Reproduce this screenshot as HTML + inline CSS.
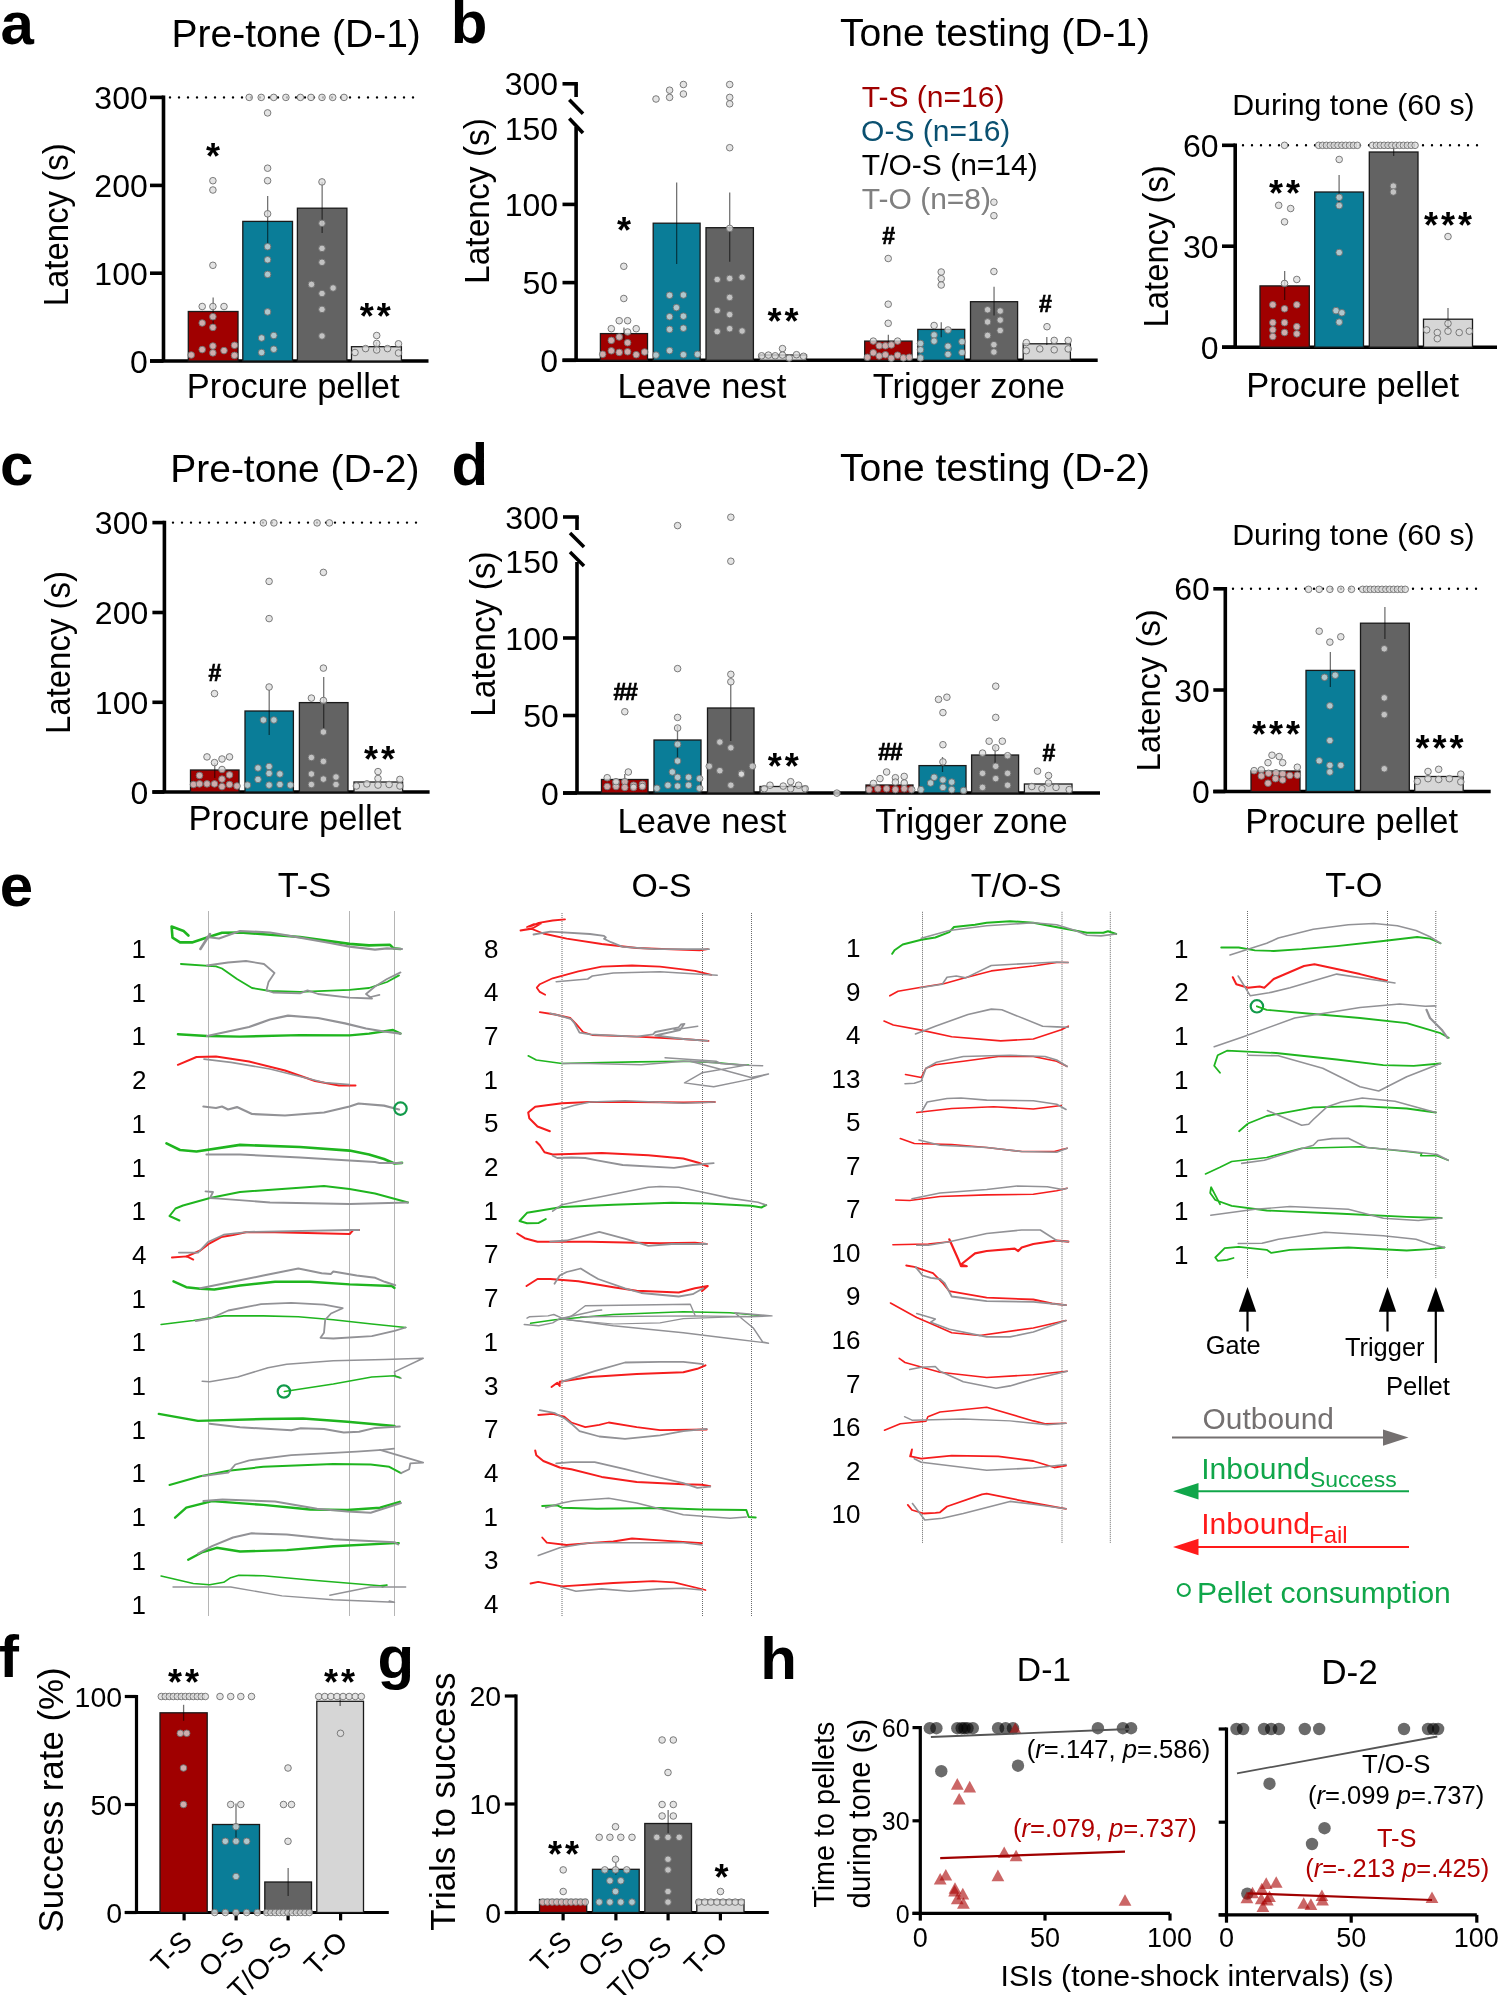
<!DOCTYPE html>
<html><head><meta charset="utf-8"><style>
html,body{margin:0;padding:0;background:#fff;}
svg{display:block;will-change:transform;}
text{font-family:"Liberation Sans", sans-serif;}
.d{fill:#dcdcdc;fill-opacity:0.78;stroke:#6e6e6e;stroke-opacity:0.9;stroke-width:1;}
.tr{fill:none;stroke-linejoin:round;stroke-linecap:round;}
</style></head><body>
<svg width="1500" height="1995" viewBox="0 0 1500 1995">
<rect x="0" y="0" width="1500" height="1995" fill="#fff"/>
<text x="0.44" y="44.00" font-size="60" text-anchor="start" fill="#000" font-weight="bold" >a</text>
<text x="171.60" y="46.50" font-size="39" text-anchor="start" fill="#000" >Pre-tone (D-1)</text>
<text transform="translate(68.00,224.45) rotate(-90) scale(1.0301,1.0695)" x="-79.46" y="0" font-size="32" fill="#000">Latency (s)</text>
<line x1="163.50" y1="95.60" x2="163.50" y2="361.00" stroke="#000" stroke-width="3.6" />
<line x1="150.00" y1="97.40" x2="163.50" y2="97.40" stroke="#000" stroke-width="3.6" />
<text x="147.75" y="108.91" font-size="32" text-anchor="end" fill="#000" >300</text>
<line x1="150.00" y1="185.40" x2="163.50" y2="185.40" stroke="#000" stroke-width="3.6" />
<text x="147.75" y="196.91" font-size="32" text-anchor="end" fill="#000" >200</text>
<line x1="150.00" y1="273.20" x2="163.50" y2="273.20" stroke="#000" stroke-width="3.6" />
<text x="147.75" y="284.71" font-size="32" text-anchor="end" fill="#000" >100</text>
<line x1="150.00" y1="361.00" x2="163.50" y2="361.00" stroke="#000" stroke-width="3.6" />
<text x="147.75" y="372.51" font-size="32" text-anchor="end" fill="#000" >0</text>
<line x1="150.00" y1="361.00" x2="428.50" y2="361.00" stroke="#000" stroke-width="3.6" />
<line x1="170.00" y1="97.40" x2="421.00" y2="97.40" stroke="#000" stroke-width="2.4" stroke-linecap="round" stroke-dasharray="0 9.0"/>
<rect x="188.30" y="311.50" width="49.70" height="49.50" fill="#a00000" stroke="#1a1a1a" stroke-width="1.3"/>
<rect x="242.80" y="221.40" width="49.70" height="139.60" fill="#0a7d98" stroke="#1a1a1a" stroke-width="1.3"/>
<rect x="297.40" y="208.20" width="49.50" height="152.80" fill="#636363" stroke="#1a1a1a" stroke-width="1.3"/>
<rect x="351.50" y="346.70" width="49.90" height="14.30" fill="#d6d6d6" stroke="#1a1a1a" stroke-width="1.3"/>
<line x1="213.15" y1="297.40" x2="213.15" y2="325.00" stroke="#000" stroke-opacity="0.55" stroke-width="1.3"/>
<line x1="267.65" y1="196.00" x2="267.65" y2="243.00" stroke="#000" stroke-opacity="0.55" stroke-width="1.3"/>
<line x1="322.15" y1="182.00" x2="322.15" y2="233.00" stroke="#000" stroke-opacity="0.55" stroke-width="1.3"/>
<line x1="376.45" y1="342.00" x2="376.45" y2="351.00" stroke="#000" stroke-opacity="0.55" stroke-width="1.3"/>
<circle cx="249.20" cy="97.40" r="3.3" class="d"/>
<circle cx="261.20" cy="97.40" r="3.3" class="d"/>
<circle cx="273.70" cy="97.40" r="3.3" class="d"/>
<circle cx="285.90" cy="97.40" r="3.3" class="d"/>
<circle cx="300.40" cy="97.40" r="3.3" class="d"/>
<circle cx="311.00" cy="97.40" r="3.3" class="d"/>
<circle cx="322.00" cy="97.40" r="3.3" class="d"/>
<circle cx="332.70" cy="97.40" r="3.3" class="d"/>
<circle cx="344.00" cy="97.40" r="3.3" class="d"/>
<circle cx="267.60" cy="112.90" r="3.3" class="d"/>
<circle cx="267.60" cy="168.20" r="3.3" class="d"/>
<circle cx="267.60" cy="180.70" r="3.3" class="d"/>
<circle cx="267.60" cy="213.80" r="3.3" class="d"/>
<circle cx="267.60" cy="246.70" r="3.3" class="d"/>
<circle cx="267.60" cy="259.80" r="3.3" class="d"/>
<circle cx="267.60" cy="274.40" r="3.3" class="d"/>
<circle cx="267.60" cy="311.90" r="3.3" class="d"/>
<circle cx="261.60" cy="338.00" r="3.3" class="d"/>
<circle cx="273.80" cy="335.50" r="3.3" class="d"/>
<circle cx="261.60" cy="352.50" r="3.3" class="d"/>
<circle cx="273.80" cy="349.20" r="3.3" class="d"/>
<circle cx="322.00" cy="181.90" r="3.3" class="d"/>
<circle cx="322.00" cy="223.30" r="3.3" class="d"/>
<circle cx="322.00" cy="248.40" r="3.3" class="d"/>
<circle cx="322.00" cy="262.30" r="3.3" class="d"/>
<circle cx="311.50" cy="284.40" r="3.3" class="d"/>
<circle cx="333.10" cy="288.00" r="3.3" class="d"/>
<circle cx="322.00" cy="293.50" r="3.3" class="d"/>
<circle cx="322.00" cy="309.40" r="3.3" class="d"/>
<circle cx="322.00" cy="336.00" r="3.3" class="d"/>
<circle cx="212.90" cy="180.70" r="3.3" class="d"/>
<circle cx="212.90" cy="190.00" r="3.3" class="d"/>
<circle cx="212.90" cy="265.30" r="3.3" class="d"/>
<circle cx="202.20" cy="306.50" r="3.3" class="d"/>
<circle cx="212.90" cy="306.50" r="3.3" class="d"/>
<circle cx="224.00" cy="306.50" r="3.3" class="d"/>
<circle cx="212.90" cy="316.70" r="3.3" class="d"/>
<circle cx="202.20" cy="323.00" r="3.3" class="d"/>
<circle cx="212.90" cy="327.40" r="3.3" class="d"/>
<circle cx="212.90" cy="346.00" r="3.3" class="d"/>
<circle cx="202.20" cy="349.60" r="3.3" class="d"/>
<circle cx="212.90" cy="352.90" r="3.3" class="d"/>
<circle cx="224.00" cy="350.60" r="3.3" class="d"/>
<circle cx="191.20" cy="355.00" r="3.3" class="d"/>
<circle cx="234.50" cy="345.30" r="3.3" class="d"/>
<circle cx="234.50" cy="355.40" r="3.3" class="d"/>
<circle cx="376.70" cy="335.50" r="3.3" class="d"/>
<circle cx="376.70" cy="343.40" r="3.3" class="d"/>
<circle cx="365.60" cy="348.60" r="3.3" class="d"/>
<circle cx="376.70" cy="350.00" r="3.3" class="d"/>
<circle cx="387.50" cy="348.60" r="3.3" class="d"/>
<circle cx="355.00" cy="352.50" r="3.3" class="d"/>
<circle cx="398.50" cy="343.80" r="3.3" class="d"/>
<circle cx="398.50" cy="353.00" r="3.3" class="d"/>
<text x="205.89" y="168.57" font-size="36" font-weight="bold" letter-spacing="3.0" fill="#000">*</text>
<text x="359.69" y="328.77" font-size="36" font-weight="bold" letter-spacing="3.0" fill="#000">**</text>
<text x="186.77" y="398.00" font-size="34.5" text-anchor="start" fill="#000" >Procure pellet</text>
<text x="450.74" y="43.30" font-size="60" text-anchor="start" fill="#000" font-weight="bold" >b</text>
<text x="840.02" y="45.80" font-size="39" text-anchor="start" fill="#000" >Tone testing (D-1)</text>
<text transform="translate(488.72,200.65) rotate(-90) scale(1.0496,1.0963)" x="-79.46" y="0" font-size="32" fill="#000">Latency (s)</text>
<line x1="576.10" y1="126.90" x2="576.10" y2="360.30" stroke="#000" stroke-width="3.6" />
<line x1="562.50" y1="204.40" x2="576.10" y2="204.40" stroke="#000" stroke-width="3.6" />
<text x="558.15" y="215.91" font-size="32" text-anchor="end" fill="#000" >100</text>
<line x1="562.50" y1="282.60" x2="576.10" y2="282.60" stroke="#000" stroke-width="3.6" />
<text x="558.15" y="294.11" font-size="32" text-anchor="end" fill="#000" >50</text>
<line x1="562.50" y1="360.30" x2="576.10" y2="360.30" stroke="#000" stroke-width="3.6" />
<text x="558.15" y="371.81" font-size="32" text-anchor="end" fill="#000" >0</text>
<text x="558.15" y="139.51" font-size="32" text-anchor="end" fill="#000" >150</text>
<line x1="562.50" y1="83.80" x2="577.90" y2="83.80" stroke="#000" stroke-width="3.6" />
<line x1="576.10" y1="83.80" x2="576.10" y2="97.00" stroke="#000" stroke-width="3.6" />
<line x1="569.30" y1="99.70" x2="583.00" y2="113.70" stroke="#000" stroke-width="3.6" />
<line x1="569.30" y1="118.50" x2="583.00" y2="133.00" stroke="#000" stroke-width="3.6" />
<text x="558.15" y="95.31" font-size="32" text-anchor="end" fill="#000" >300</text>
<line x1="562.50" y1="360.30" x2="1097.70" y2="360.30" stroke="#000" stroke-width="3.6" />
<rect x="600.40" y="333.60" width="47.10" height="26.70" fill="#a00000" stroke="#1a1a1a" stroke-width="1.3"/>
<rect x="653.20" y="223.20" width="46.90" height="137.10" fill="#0a7d98" stroke="#1a1a1a" stroke-width="1.3"/>
<rect x="706.00" y="227.70" width="47.40" height="132.60" fill="#636363" stroke="#1a1a1a" stroke-width="1.3"/>
<rect x="759.50" y="355.00" width="47.00" height="5.30" fill="#d6d6d6" stroke="#1a1a1a" stroke-width="1.3"/>
<rect x="864.70" y="341.10" width="47.30" height="19.20" fill="#a00000" stroke="#1a1a1a" stroke-width="1.3"/>
<rect x="917.80" y="329.40" width="46.90" height="30.90" fill="#0a7d98" stroke="#1a1a1a" stroke-width="1.3"/>
<rect x="970.50" y="301.70" width="47.10" height="58.60" fill="#636363" stroke="#1a1a1a" stroke-width="1.3"/>
<rect x="1023.20" y="343.80" width="47.20" height="16.50" fill="#d6d6d6" stroke="#1a1a1a" stroke-width="1.3"/>
<line x1="623.95" y1="327.50" x2="623.95" y2="340.00" stroke="#000" stroke-opacity="0.55" stroke-width="1.3"/>
<line x1="676.65" y1="182.40" x2="676.65" y2="264.00" stroke="#000" stroke-opacity="0.55" stroke-width="1.3"/>
<line x1="729.70" y1="192.60" x2="729.70" y2="261.80" stroke="#000" stroke-opacity="0.55" stroke-width="1.3"/>
<line x1="888.35" y1="334.80" x2="888.35" y2="345.00" stroke="#000" stroke-opacity="0.55" stroke-width="1.3"/>
<line x1="941.25" y1="322.20" x2="941.25" y2="337.20" stroke="#000" stroke-opacity="0.55" stroke-width="1.3"/>
<line x1="994.05" y1="286.80" x2="994.05" y2="315.60" stroke="#000" stroke-opacity="0.55" stroke-width="1.3"/>
<line x1="1046.80" y1="337.00" x2="1046.80" y2="345.00" stroke="#000" stroke-opacity="0.55" stroke-width="1.3"/>
<circle cx="623.80" cy="266.30" r="3.3" class="d"/>
<circle cx="623.80" cy="298.50" r="3.3" class="d"/>
<circle cx="619.20" cy="320.70" r="3.3" class="d"/>
<circle cx="627.60" cy="320.70" r="3.3" class="d"/>
<circle cx="611.30" cy="328.70" r="3.3" class="d"/>
<circle cx="636.20" cy="328.70" r="3.3" class="d"/>
<circle cx="627.60" cy="332.00" r="3.3" class="d"/>
<circle cx="611.30" cy="340.40" r="3.3" class="d"/>
<circle cx="619.20" cy="337.00" r="3.3" class="d"/>
<circle cx="627.60" cy="342.70" r="3.3" class="d"/>
<circle cx="611.30" cy="350.80" r="3.3" class="d"/>
<circle cx="619.20" cy="352.40" r="3.3" class="d"/>
<circle cx="627.60" cy="351.80" r="3.3" class="d"/>
<circle cx="602.70" cy="354.30" r="3.3" class="d"/>
<circle cx="636.20" cy="354.70" r="3.3" class="d"/>
<circle cx="644.60" cy="352.00" r="3.3" class="d"/>
<circle cx="656.00" cy="99.00" r="3.3" class="d"/>
<circle cx="669.60" cy="90.20" r="3.3" class="d"/>
<circle cx="669.60" cy="97.40" r="3.3" class="d"/>
<circle cx="683.40" cy="84.50" r="3.3" class="d"/>
<circle cx="683.40" cy="94.00" r="3.3" class="d"/>
<circle cx="669.60" cy="295.30" r="3.3" class="d"/>
<circle cx="683.40" cy="295.00" r="3.3" class="d"/>
<circle cx="676.40" cy="307.60" r="3.3" class="d"/>
<circle cx="669.60" cy="316.70" r="3.3" class="d"/>
<circle cx="683.40" cy="316.20" r="3.3" class="d"/>
<circle cx="669.60" cy="329.40" r="3.3" class="d"/>
<circle cx="683.40" cy="328.20" r="3.3" class="d"/>
<circle cx="669.60" cy="350.60" r="3.3" class="d"/>
<circle cx="656.00" cy="355.10" r="3.3" class="d"/>
<circle cx="683.40" cy="354.70" r="3.3" class="d"/>
<circle cx="697.50" cy="354.30" r="3.3" class="d"/>
<circle cx="729.70" cy="84.50" r="3.3" class="d"/>
<circle cx="729.70" cy="97.40" r="3.3" class="d"/>
<circle cx="729.70" cy="103.80" r="3.3" class="d"/>
<circle cx="729.70" cy="147.70" r="3.3" class="d"/>
<circle cx="729.70" cy="228.40" r="3.3" class="d"/>
<circle cx="717.20" cy="279.50" r="3.3" class="d"/>
<circle cx="729.70" cy="278.40" r="3.3" class="d"/>
<circle cx="742.10" cy="277.20" r="3.3" class="d"/>
<circle cx="729.70" cy="297.40" r="3.3" class="d"/>
<circle cx="717.20" cy="310.50" r="3.3" class="d"/>
<circle cx="729.70" cy="314.60" r="3.3" class="d"/>
<circle cx="717.20" cy="331.60" r="3.3" class="d"/>
<circle cx="729.70" cy="328.70" r="3.3" class="d"/>
<circle cx="742.10" cy="331.00" r="3.3" class="d"/>
<circle cx="782.50" cy="348.60" r="3.3" class="d"/>
<circle cx="761.60" cy="355.80" r="3.3" class="d"/>
<circle cx="768.40" cy="355.10" r="3.3" class="d"/>
<circle cx="775.20" cy="355.80" r="3.3" class="d"/>
<circle cx="782.50" cy="355.10" r="3.3" class="d"/>
<circle cx="789.20" cy="358.10" r="3.3" class="d"/>
<circle cx="796.50" cy="354.70" r="3.3" class="d"/>
<circle cx="803.50" cy="356.30" r="3.3" class="d"/>
<circle cx="888.20" cy="258.50" r="3.3" class="d"/>
<circle cx="888.20" cy="304.20" r="3.3" class="d"/>
<circle cx="888.20" cy="323.30" r="3.3" class="d"/>
<circle cx="873.30" cy="341.10" r="3.3" class="d"/>
<circle cx="897.60" cy="341.10" r="3.3" class="d"/>
<circle cx="879.20" cy="345.80" r="3.3" class="d"/>
<circle cx="885.40" cy="345.80" r="3.3" class="d"/>
<circle cx="891.30" cy="344.90" r="3.3" class="d"/>
<circle cx="873.30" cy="352.80" r="3.3" class="d"/>
<circle cx="879.20" cy="356.00" r="3.3" class="d"/>
<circle cx="885.40" cy="354.80" r="3.3" class="d"/>
<circle cx="897.60" cy="355.20" r="3.3" class="d"/>
<circle cx="867.40" cy="357.30" r="3.3" class="d"/>
<circle cx="891.30" cy="358.20" r="3.3" class="d"/>
<circle cx="903.40" cy="357.90" r="3.3" class="d"/>
<circle cx="909.30" cy="357.30" r="3.3" class="d"/>
<circle cx="941.20" cy="272.00" r="3.3" class="d"/>
<circle cx="941.20" cy="278.70" r="3.3" class="d"/>
<circle cx="941.20" cy="285.00" r="3.3" class="d"/>
<circle cx="934.10" cy="325.50" r="3.3" class="d"/>
<circle cx="948.00" cy="330.00" r="3.3" class="d"/>
<circle cx="934.10" cy="335.00" r="3.3" class="d"/>
<circle cx="934.10" cy="341.10" r="3.3" class="d"/>
<circle cx="920.50" cy="343.50" r="3.3" class="d"/>
<circle cx="962.00" cy="341.70" r="3.3" class="d"/>
<circle cx="920.50" cy="349.80" r="3.3" class="d"/>
<circle cx="948.00" cy="346.20" r="3.3" class="d"/>
<circle cx="948.00" cy="354.30" r="3.3" class="d"/>
<circle cx="962.00" cy="352.50" r="3.3" class="d"/>
<circle cx="920.50" cy="357.90" r="3.3" class="d"/>
<circle cx="993.90" cy="202.20" r="3.3" class="d"/>
<circle cx="993.90" cy="215.70" r="3.3" class="d"/>
<circle cx="993.90" cy="271.50" r="3.3" class="d"/>
<circle cx="987.60" cy="309.80" r="3.3" class="d"/>
<circle cx="1000.20" cy="311.00" r="3.3" class="d"/>
<circle cx="987.60" cy="321.90" r="3.3" class="d"/>
<circle cx="1000.20" cy="320.10" r="3.3" class="d"/>
<circle cx="987.60" cy="335.40" r="3.3" class="d"/>
<circle cx="1000.20" cy="330.50" r="3.3" class="d"/>
<circle cx="993.90" cy="344.70" r="3.3" class="d"/>
<circle cx="993.90" cy="352.00" r="3.3" class="d"/>
<circle cx="1047.00" cy="326.70" r="3.3" class="d"/>
<circle cx="1026.30" cy="342.60" r="3.3" class="d"/>
<circle cx="1054.20" cy="340.40" r="3.3" class="d"/>
<circle cx="1068.20" cy="340.40" r="3.3" class="d"/>
<circle cx="1039.80" cy="348.90" r="3.3" class="d"/>
<circle cx="1054.20" cy="349.80" r="3.3" class="d"/>
<circle cx="1026.30" cy="350.70" r="3.3" class="d"/>
<circle cx="1068.20" cy="348.90" r="3.3" class="d"/>
<text x="616.89" y="243.47" font-size="36" font-weight="bold" letter-spacing="3.0" fill="#000">*</text>
<text x="767.59" y="334.07" font-size="36" font-weight="bold" letter-spacing="3.0" fill="#000">**</text>
<text x="882.31" y="244.47" font-size="23" font-weight="bold" letter-spacing="-1.2" fill="#000" stroke="#000" stroke-width="0.7">#</text>
<text x="1039.01" y="311.97" font-size="23" font-weight="bold" letter-spacing="-1.2" fill="#000" stroke="#000" stroke-width="0.7">#</text>
<text x="861.83" y="107.20" font-size="30" text-anchor="start" fill="#a00000" >T-S (n=16)</text>
<text x="861.08" y="140.80" font-size="30" text-anchor="start" fill="#0a5070" >O-S (n=16)</text>
<text x="861.83" y="174.50" font-size="30" text-anchor="start" fill="#000" >T/O-S (n=14)</text>
<text x="861.83" y="208.50" font-size="30" text-anchor="start" fill="#808080" >T-O (n=8)</text>
<text x="617.57" y="398.00" font-size="34.5" text-anchor="start" fill="#000" >Leave nest</text>
<text x="872.63" y="398.00" font-size="34.5" text-anchor="start" fill="#000" >Trigger zone</text>
<text x="1232.21" y="114.70" font-size="30.3" text-anchor="start" fill="#000" >During tone (60 s)</text>
<text transform="translate(1167.58,246.00) rotate(-90) scale(1.0243,1.0728)" x="-79.46" y="0" font-size="32" fill="#000">Latency (s)</text>
<line x1="1235.20" y1="143.50" x2="1235.20" y2="347.20" stroke="#000" stroke-width="3.6" />
<line x1="1222.00" y1="145.30" x2="1235.20" y2="145.30" stroke="#000" stroke-width="3.6" />
<text x="1218.55" y="156.81" font-size="32" text-anchor="end" fill="#000" >60</text>
<line x1="1222.00" y1="246.20" x2="1235.20" y2="246.20" stroke="#000" stroke-width="3.6" />
<text x="1218.55" y="257.71" font-size="32" text-anchor="end" fill="#000" >30</text>
<line x1="1222.00" y1="347.20" x2="1235.20" y2="347.20" stroke="#000" stroke-width="3.6" />
<text x="1218.55" y="358.71" font-size="32" text-anchor="end" fill="#000" >0</text>
<line x1="1222.00" y1="347.20" x2="1497.00" y2="347.20" stroke="#000" stroke-width="3.6" />
<line x1="1243.00" y1="145.30" x2="1484.00" y2="145.30" stroke="#000" stroke-width="2.4" stroke-linecap="round" stroke-dasharray="0 9.0"/>
<rect x="1260.00" y="285.90" width="49.30" height="61.30" fill="#a00000" stroke="#1a1a1a" stroke-width="1.3"/>
<rect x="1314.70" y="192.00" width="48.80" height="155.20" fill="#0a7d98" stroke="#1a1a1a" stroke-width="1.3"/>
<rect x="1369.30" y="152.00" width="48.70" height="195.20" fill="#636363" stroke="#1a1a1a" stroke-width="1.3"/>
<rect x="1423.50" y="319.20" width="49.00" height="28.00" fill="#d6d6d6" stroke="#1a1a1a" stroke-width="1.3"/>
<line x1="1284.65" y1="271.00" x2="1284.65" y2="300.00" stroke="#000" stroke-opacity="0.55" stroke-width="1.3"/>
<line x1="1339.10" y1="175.00" x2="1339.10" y2="209.00" stroke="#000" stroke-opacity="0.55" stroke-width="1.3"/>
<line x1="1393.65" y1="145.50" x2="1393.65" y2="156.00" stroke="#000" stroke-opacity="0.55" stroke-width="1.3"/>
<line x1="1448.00" y1="308.00" x2="1448.00" y2="330.00" stroke="#000" stroke-opacity="0.55" stroke-width="1.3"/>
<circle cx="1284.53" cy="145.33" r="3.3" class="d"/>
<circle cx="1278.67" cy="205.33" r="3.3" class="d"/>
<circle cx="1290.67" cy="208.53" r="3.3" class="d"/>
<circle cx="1284.53" cy="221.87" r="3.3" class="d"/>
<circle cx="1284.53" cy="283.47" r="3.3" class="d"/>
<circle cx="1296.80" cy="279.47" r="3.3" class="d"/>
<circle cx="1272.80" cy="304.80" r="3.3" class="d"/>
<circle cx="1296.80" cy="304.80" r="3.3" class="d"/>
<circle cx="1284.53" cy="308.80" r="3.3" class="d"/>
<circle cx="1272.80" cy="322.67" r="3.3" class="d"/>
<circle cx="1284.53" cy="322.67" r="3.3" class="d"/>
<circle cx="1296.80" cy="326.67" r="3.3" class="d"/>
<circle cx="1272.80" cy="329.87" r="3.3" class="d"/>
<circle cx="1284.53" cy="332.53" r="3.3" class="d"/>
<circle cx="1296.80" cy="333.87" r="3.3" class="d"/>
<circle cx="1272.80" cy="336.53" r="3.3" class="d"/>
<circle cx="1318.67" cy="145.33" r="3.3" class="d"/>
<circle cx="1322.53" cy="145.33" r="3.3" class="d"/>
<circle cx="1326.40" cy="145.33" r="3.3" class="d"/>
<circle cx="1330.27" cy="145.33" r="3.3" class="d"/>
<circle cx="1334.13" cy="145.33" r="3.3" class="d"/>
<circle cx="1338.00" cy="145.33" r="3.3" class="d"/>
<circle cx="1341.87" cy="145.33" r="3.3" class="d"/>
<circle cx="1345.73" cy="145.33" r="3.3" class="d"/>
<circle cx="1349.60" cy="145.33" r="3.3" class="d"/>
<circle cx="1353.47" cy="145.33" r="3.3" class="d"/>
<circle cx="1357.33" cy="145.33" r="3.3" class="d"/>
<circle cx="1339.20" cy="159.47" r="3.3" class="d"/>
<circle cx="1339.20" cy="197.33" r="3.3" class="d"/>
<circle cx="1339.20" cy="205.60" r="3.3" class="d"/>
<circle cx="1339.20" cy="252.53" r="3.3" class="d"/>
<circle cx="1336.00" cy="310.67" r="3.3" class="d"/>
<circle cx="1341.87" cy="312.80" r="3.3" class="d"/>
<circle cx="1339.20" cy="322.13" r="3.3" class="d"/>
<circle cx="1372.53" cy="145.33" r="3.3" class="d"/>
<circle cx="1376.40" cy="145.33" r="3.3" class="d"/>
<circle cx="1380.27" cy="145.33" r="3.3" class="d"/>
<circle cx="1384.13" cy="145.33" r="3.3" class="d"/>
<circle cx="1388.00" cy="145.33" r="3.3" class="d"/>
<circle cx="1391.87" cy="145.33" r="3.3" class="d"/>
<circle cx="1395.73" cy="145.33" r="3.3" class="d"/>
<circle cx="1399.60" cy="145.33" r="3.3" class="d"/>
<circle cx="1403.47" cy="145.33" r="3.3" class="d"/>
<circle cx="1407.33" cy="145.33" r="3.3" class="d"/>
<circle cx="1411.20" cy="145.33" r="3.3" class="d"/>
<circle cx="1415.07" cy="145.33" r="3.3" class="d"/>
<circle cx="1393.33" cy="186.13" r="3.3" class="d"/>
<circle cx="1393.33" cy="192.00" r="3.3" class="d"/>
<circle cx="1448.00" cy="236.53" r="3.3" class="d"/>
<circle cx="1448.00" cy="323.47" r="3.3" class="d"/>
<circle cx="1426.67" cy="329.87" r="3.3" class="d"/>
<circle cx="1437.33" cy="332.53" r="3.3" class="d"/>
<circle cx="1448.00" cy="331.20" r="3.3" class="d"/>
<circle cx="1459.20" cy="332.53" r="3.3" class="d"/>
<circle cx="1469.33" cy="331.20" r="3.3" class="d"/>
<circle cx="1437.33" cy="338.67" r="3.3" class="d"/>
<text x="1268.89" y="205.77" font-size="36" font-weight="bold" letter-spacing="3.0" fill="#000">**</text>
<text x="1423.89" y="237.77" font-size="36" font-weight="bold" letter-spacing="3.0" fill="#000">***</text>
<text x="1246.17" y="397.00" font-size="34.5" text-anchor="start" fill="#000" >Procure pellet</text>
<text x="0.06" y="484.50" font-size="60" text-anchor="start" fill="#000" font-weight="bold" >c</text>
<text x="170.20" y="481.50" font-size="39" text-anchor="start" fill="#000" >Pre-tone (D-2)</text>
<text transform="translate(70.21,652.20) rotate(-90) scale(1.0295,1.0829)" x="-79.46" y="0" font-size="32" fill="#000">Latency (s)</text>
<line x1="164.40" y1="520.80" x2="164.40" y2="792.00" stroke="#000" stroke-width="3.6" />
<line x1="152.40" y1="522.60" x2="164.40" y2="522.60" stroke="#000" stroke-width="3.6" />
<text x="148.25" y="534.11" font-size="32" text-anchor="end" fill="#000" >300</text>
<line x1="152.40" y1="612.50" x2="164.40" y2="612.50" stroke="#000" stroke-width="3.6" />
<text x="148.25" y="624.01" font-size="32" text-anchor="end" fill="#000" >200</text>
<line x1="152.40" y1="702.30" x2="164.40" y2="702.30" stroke="#000" stroke-width="3.6" />
<text x="148.25" y="713.81" font-size="32" text-anchor="end" fill="#000" >100</text>
<line x1="152.40" y1="792.00" x2="164.40" y2="792.00" stroke="#000" stroke-width="3.6" />
<text x="148.25" y="803.51" font-size="32" text-anchor="end" fill="#000" >0</text>
<line x1="152.40" y1="792.00" x2="429.60" y2="792.00" stroke="#000" stroke-width="3.6" />
<line x1="173.00" y1="522.60" x2="421.00" y2="522.60" stroke="#000" stroke-width="2.4" stroke-linecap="round" stroke-dasharray="0 9.0"/>
<rect x="190.50" y="770.00" width="48.50" height="22.00" fill="#a00000" stroke="#1a1a1a" stroke-width="1.3"/>
<rect x="245.00" y="711.00" width="48.40" height="81.00" fill="#0a7d98" stroke="#1a1a1a" stroke-width="1.3"/>
<rect x="299.40" y="702.60" width="48.60" height="89.40" fill="#636363" stroke="#1a1a1a" stroke-width="1.3"/>
<rect x="354.00" y="782.00" width="48.60" height="10.00" fill="#d6d6d6" stroke="#1a1a1a" stroke-width="1.3"/>
<line x1="214.75" y1="763.00" x2="214.75" y2="778.00" stroke="#000" stroke-opacity="0.55" stroke-width="1.3"/>
<line x1="269.20" y1="690.00" x2="269.20" y2="735.00" stroke="#000" stroke-opacity="0.55" stroke-width="1.3"/>
<line x1="323.70" y1="677.00" x2="323.70" y2="728.00" stroke="#000" stroke-opacity="0.55" stroke-width="1.3"/>
<circle cx="263.40" cy="522.90" r="3.3" class="d"/>
<circle cx="273.90" cy="522.90" r="3.3" class="d"/>
<circle cx="317.10" cy="522.90" r="3.3" class="d"/>
<circle cx="329.40" cy="522.90" r="3.3" class="d"/>
<circle cx="214.50" cy="693.60" r="3.3" class="d"/>
<circle cx="207.00" cy="756.90" r="3.3" class="d"/>
<circle cx="222.00" cy="759.00" r="3.3" class="d"/>
<circle cx="229.50" cy="756.90" r="3.3" class="d"/>
<circle cx="214.50" cy="762.60" r="3.3" class="d"/>
<circle cx="222.00" cy="769.50" r="3.3" class="d"/>
<circle cx="199.50" cy="775.50" r="3.3" class="d"/>
<circle cx="229.50" cy="774.90" r="3.3" class="d"/>
<circle cx="222.00" cy="779.10" r="3.3" class="d"/>
<circle cx="193.50" cy="784.50" r="3.3" class="d"/>
<circle cx="207.00" cy="783.90" r="3.3" class="d"/>
<circle cx="214.50" cy="783.90" r="3.3" class="d"/>
<circle cx="229.50" cy="784.50" r="3.3" class="d"/>
<circle cx="222.00" cy="786.60" r="3.3" class="d"/>
<circle cx="237.00" cy="786.00" r="3.3" class="d"/>
<circle cx="199.50" cy="783.90" r="3.3" class="d"/>
<circle cx="269.10" cy="581.40" r="3.3" class="d"/>
<circle cx="269.10" cy="618.60" r="3.3" class="d"/>
<circle cx="269.10" cy="687.00" r="3.3" class="d"/>
<circle cx="263.40" cy="720.00" r="3.3" class="d"/>
<circle cx="273.90" cy="720.00" r="3.3" class="d"/>
<circle cx="269.10" cy="766.50" r="3.3" class="d"/>
<circle cx="258.00" cy="768.00" r="3.3" class="d"/>
<circle cx="258.00" cy="779.40" r="3.3" class="d"/>
<circle cx="269.10" cy="773.40" r="3.3" class="d"/>
<circle cx="279.90" cy="774.00" r="3.3" class="d"/>
<circle cx="247.50" cy="785.10" r="3.3" class="d"/>
<circle cx="269.10" cy="785.10" r="3.3" class="d"/>
<circle cx="279.90" cy="784.50" r="3.3" class="d"/>
<circle cx="290.40" cy="785.10" r="3.3" class="d"/>
<circle cx="323.40" cy="572.40" r="3.3" class="d"/>
<circle cx="323.40" cy="668.10" r="3.3" class="d"/>
<circle cx="311.40" cy="698.10" r="3.3" class="d"/>
<circle cx="323.40" cy="700.50" r="3.3" class="d"/>
<circle cx="323.40" cy="732.00" r="3.3" class="d"/>
<circle cx="311.40" cy="757.50" r="3.3" class="d"/>
<circle cx="323.40" cy="761.40" r="3.3" class="d"/>
<circle cx="311.40" cy="774.00" r="3.3" class="d"/>
<circle cx="323.40" cy="779.10" r="3.3" class="d"/>
<circle cx="336.00" cy="777.00" r="3.3" class="d"/>
<circle cx="311.40" cy="784.50" r="3.3" class="d"/>
<circle cx="336.00" cy="784.50" r="3.3" class="d"/>
<circle cx="378.00" cy="771.60" r="3.3" class="d"/>
<circle cx="378.00" cy="778.50" r="3.3" class="d"/>
<circle cx="399.90" cy="779.40" r="3.3" class="d"/>
<circle cx="366.90" cy="783.90" r="3.3" class="d"/>
<circle cx="389.10" cy="784.50" r="3.3" class="d"/>
<circle cx="378.00" cy="785.10" r="3.3" class="d"/>
<circle cx="356.40" cy="786.00" r="3.3" class="d"/>
<circle cx="399.90" cy="786.00" r="3.3" class="d"/>
<text x="208.61" y="680.87" font-size="23" font-weight="bold" letter-spacing="-1.2" fill="#000" stroke="#000" stroke-width="0.7">#</text>
<text x="363.89" y="771.77" font-size="36" font-weight="bold" letter-spacing="3.0" fill="#000">**</text>
<text x="188.57" y="829.50" font-size="34.5" text-anchor="start" fill="#000" >Procure pellet</text>
<text x="451.54" y="484.50" font-size="60" text-anchor="start" fill="#000" font-weight="bold" >d</text>
<text x="840.02" y="481.00" font-size="39" text-anchor="start" fill="#000" >Tone testing (D-2)</text>
<text transform="translate(494.72,633.65) rotate(-90) scale(1.0457,1.0963)" x="-79.46" y="0" font-size="32" fill="#000">Latency (s)</text>
<line x1="577.00" y1="562.00" x2="577.00" y2="793.00" stroke="#000" stroke-width="3.6" />
<line x1="563.00" y1="638.00" x2="577.00" y2="638.00" stroke="#000" stroke-width="3.6" />
<text x="558.75" y="649.51" font-size="32" text-anchor="end" fill="#000" >100</text>
<line x1="563.00" y1="715.50" x2="577.00" y2="715.50" stroke="#000" stroke-width="3.6" />
<text x="558.75" y="727.01" font-size="32" text-anchor="end" fill="#000" >50</text>
<line x1="563.00" y1="793.00" x2="577.00" y2="793.00" stroke="#000" stroke-width="3.6" />
<text x="558.75" y="804.51" font-size="32" text-anchor="end" fill="#000" >0</text>
<text x="558.75" y="572.51" font-size="32" text-anchor="end" fill="#000" >150</text>
<line x1="563.00" y1="517.00" x2="578.80" y2="517.00" stroke="#000" stroke-width="3.6" />
<line x1="577.00" y1="517.00" x2="577.00" y2="530.00" stroke="#000" stroke-width="3.6" />
<line x1="570.00" y1="533.00" x2="584.00" y2="547.00" stroke="#000" stroke-width="3.6" />
<line x1="570.00" y1="552.00" x2="584.00" y2="566.00" stroke="#000" stroke-width="3.6" />
<text x="558.75" y="528.51" font-size="32" text-anchor="end" fill="#000" >300</text>
<line x1="563.00" y1="793.00" x2="1100.00" y2="793.00" stroke="#000" stroke-width="3.6" />
<rect x="601.50" y="779.50" width="46.50" height="13.50" fill="#a00000" stroke="#1a1a1a" stroke-width="1.3"/>
<rect x="654.00" y="740.00" width="47.00" height="53.00" fill="#0a7d98" stroke="#1a1a1a" stroke-width="1.3"/>
<rect x="707.50" y="708.00" width="46.50" height="85.00" fill="#636363" stroke="#1a1a1a" stroke-width="1.3"/>
<rect x="760.00" y="786.50" width="47.00" height="6.50" fill="#d6d6d6" stroke="#1a1a1a" stroke-width="1.3"/>
<rect x="866.00" y="785.00" width="47.00" height="8.00" fill="#a00000" stroke="#1a1a1a" stroke-width="1.3"/>
<rect x="919.00" y="765.60" width="47.00" height="27.40" fill="#0a7d98" stroke="#1a1a1a" stroke-width="1.3"/>
<rect x="971.60" y="755.00" width="47.00" height="38.00" fill="#636363" stroke="#1a1a1a" stroke-width="1.3"/>
<rect x="1024.40" y="784.00" width="47.60" height="9.00" fill="#d6d6d6" stroke="#1a1a1a" stroke-width="1.3"/>
<line x1="624.75" y1="774.00" x2="624.75" y2="785.00" stroke="#000" stroke-opacity="0.55" stroke-width="1.3"/>
<line x1="677.50" y1="726.00" x2="677.50" y2="760.00" stroke="#000" stroke-opacity="0.55" stroke-width="1.3"/>
<line x1="730.75" y1="684.00" x2="730.75" y2="741.00" stroke="#000" stroke-opacity="0.55" stroke-width="1.3"/>
<line x1="942.50" y1="757.00" x2="942.50" y2="772.00" stroke="#000" stroke-opacity="0.55" stroke-width="1.3"/>
<line x1="995.10" y1="746.00" x2="995.10" y2="763.00" stroke="#000" stroke-opacity="0.55" stroke-width="1.3"/>
<circle cx="624.80" cy="711.72" r="3.3" class="d"/>
<circle cx="628.32" cy="772.00" r="3.3" class="d"/>
<circle cx="607.20" cy="777.72" r="3.3" class="d"/>
<circle cx="616.00" cy="783.00" r="3.3" class="d"/>
<circle cx="624.80" cy="781.68" r="3.3" class="d"/>
<circle cx="607.20" cy="786.52" r="3.3" class="d"/>
<circle cx="616.00" cy="786.52" r="3.3" class="d"/>
<circle cx="633.60" cy="785.20" r="3.3" class="d"/>
<circle cx="642.40" cy="784.32" r="3.3" class="d"/>
<circle cx="624.80" cy="787.40" r="3.3" class="d"/>
<circle cx="633.60" cy="787.40" r="3.3" class="d"/>
<circle cx="642.40" cy="786.52" r="3.3" class="d"/>
<circle cx="616.00" cy="781.68" r="3.3" class="d"/>
<circle cx="677.60" cy="525.60" r="3.3" class="d"/>
<circle cx="677.60" cy="668.60" r="3.3" class="d"/>
<circle cx="677.60" cy="717.44" r="3.3" class="d"/>
<circle cx="677.60" cy="728.00" r="3.3" class="d"/>
<circle cx="677.60" cy="744.28" r="3.3" class="d"/>
<circle cx="677.60" cy="761.00" r="3.3" class="d"/>
<circle cx="672.32" cy="772.00" r="3.3" class="d"/>
<circle cx="688.60" cy="777.28" r="3.3" class="d"/>
<circle cx="677.60" cy="777.28" r="3.3" class="d"/>
<circle cx="667.92" cy="785.20" r="3.3" class="d"/>
<circle cx="677.60" cy="786.08" r="3.3" class="d"/>
<circle cx="688.60" cy="785.20" r="3.3" class="d"/>
<circle cx="699.60" cy="778.60" r="3.3" class="d"/>
<circle cx="656.92" cy="788.28" r="3.3" class="d"/>
<circle cx="699.60" cy="788.28" r="3.3" class="d"/>
<circle cx="730.84" cy="517.24" r="3.3" class="d"/>
<circle cx="730.84" cy="561.24" r="3.3" class="d"/>
<circle cx="730.84" cy="674.32" r="3.3" class="d"/>
<circle cx="730.84" cy="681.80" r="3.3" class="d"/>
<circle cx="719.84" cy="742.08" r="3.3" class="d"/>
<circle cx="730.84" cy="747.80" r="3.3" class="d"/>
<circle cx="709.28" cy="766.28" r="3.3" class="d"/>
<circle cx="719.84" cy="770.68" r="3.3" class="d"/>
<circle cx="741.40" cy="773.32" r="3.3" class="d"/>
<circle cx="752.40" cy="766.28" r="3.3" class="d"/>
<circle cx="730.84" cy="785.20" r="3.3" class="d"/>
<circle cx="741.40" cy="774.20" r="3.3" class="d"/>
<circle cx="790.68" cy="781.68" r="3.3" class="d"/>
<circle cx="770.00" cy="785.20" r="3.3" class="d"/>
<circle cx="783.20" cy="786.08" r="3.3" class="d"/>
<circle cx="798.60" cy="785.20" r="3.3" class="d"/>
<circle cx="764.28" cy="788.72" r="3.3" class="d"/>
<circle cx="790.68" cy="788.72" r="3.3" class="d"/>
<circle cx="805.20" cy="788.72" r="3.3" class="d"/>
<circle cx="836.88" cy="793.12" r="3.3" class="d"/>
<circle cx="886.61" cy="772.00" r="3.3" class="d"/>
<circle cx="880.01" cy="778.60" r="3.3" class="d"/>
<circle cx="895.41" cy="777.72" r="3.3" class="d"/>
<circle cx="904.21" cy="776.40" r="3.3" class="d"/>
<circle cx="873.41" cy="783.44" r="3.3" class="d"/>
<circle cx="895.41" cy="782.12" r="3.3" class="d"/>
<circle cx="904.21" cy="783.00" r="3.3" class="d"/>
<circle cx="869.01" cy="789.60" r="3.3" class="d"/>
<circle cx="877.81" cy="788.72" r="3.3" class="d"/>
<circle cx="886.61" cy="788.72" r="3.3" class="d"/>
<circle cx="895.41" cy="789.60" r="3.3" class="d"/>
<circle cx="904.21" cy="788.72" r="3.3" class="d"/>
<circle cx="911.69" cy="789.60" r="3.3" class="d"/>
<circle cx="938.53" cy="699.40" r="3.3" class="d"/>
<circle cx="946.89" cy="697.20" r="3.3" class="d"/>
<circle cx="942.93" cy="712.60" r="3.3" class="d"/>
<circle cx="942.93" cy="744.72" r="3.3" class="d"/>
<circle cx="942.93" cy="761.88" r="3.3" class="d"/>
<circle cx="934.13" cy="777.28" r="3.3" class="d"/>
<circle cx="942.93" cy="779.92" r="3.3" class="d"/>
<circle cx="930.61" cy="783.00" r="3.3" class="d"/>
<circle cx="951.73" cy="782.12" r="3.3" class="d"/>
<circle cx="942.93" cy="787.40" r="3.3" class="d"/>
<circle cx="920.93" cy="789.60" r="3.3" class="d"/>
<circle cx="951.73" cy="789.60" r="3.3" class="d"/>
<circle cx="963.61" cy="790.48" r="3.3" class="d"/>
<circle cx="995.73" cy="686.20" r="3.3" class="d"/>
<circle cx="995.73" cy="717.44" r="3.3" class="d"/>
<circle cx="989.13" cy="741.20" r="3.3" class="d"/>
<circle cx="1002.33" cy="741.20" r="3.3" class="d"/>
<circle cx="995.73" cy="747.80" r="3.3" class="d"/>
<circle cx="982.53" cy="753.08" r="3.3" class="d"/>
<circle cx="1007.61" cy="755.72" r="3.3" class="d"/>
<circle cx="995.73" cy="766.28" r="3.3" class="d"/>
<circle cx="982.53" cy="773.32" r="3.3" class="d"/>
<circle cx="995.73" cy="778.60" r="3.3" class="d"/>
<circle cx="1007.61" cy="773.32" r="3.3" class="d"/>
<circle cx="982.53" cy="787.40" r="3.3" class="d"/>
<circle cx="1007.61" cy="785.20" r="3.3" class="d"/>
<circle cx="1037.53" cy="771.12" r="3.3" class="d"/>
<circle cx="1048.53" cy="775.52" r="3.3" class="d"/>
<circle cx="1048.53" cy="783.00" r="3.3" class="d"/>
<circle cx="1031.81" cy="786.52" r="3.3" class="d"/>
<circle cx="1041.93" cy="788.72" r="3.3" class="d"/>
<circle cx="1056.01" cy="787.40" r="3.3" class="d"/>
<circle cx="1069.21" cy="789.60" r="3.3" class="d"/>
<text x="613.41" y="700.17" font-size="23" font-weight="bold" letter-spacing="-1.2" fill="#000" stroke="#000" stroke-width="0.7">##</text>
<text x="767.70" y="779.17" font-size="36" font-weight="bold" letter-spacing="3.0" fill="#000">**</text>
<text x="878.29" y="759.57" font-size="23" font-weight="bold" letter-spacing="-1.2" fill="#000" stroke="#000" stroke-width="0.7">##</text>
<text x="1042.41" y="760.89" font-size="23" font-weight="bold" letter-spacing="-1.2" fill="#000" stroke="#000" stroke-width="0.7">#</text>
<text x="617.57" y="833.00" font-size="34.5" text-anchor="start" fill="#000" >Leave nest</text>
<text x="875.23" y="833.00" font-size="34.5" text-anchor="start" fill="#000" >Trigger zone</text>
<text x="1232.21" y="545.00" font-size="30.3" text-anchor="start" fill="#000" >During tone (60 s)</text>
<text transform="translate(1159.71,690.00) rotate(-90) scale(1.0243,1.0527)" x="-79.46" y="0" font-size="32" fill="#000">Latency (s)</text>
<line x1="1225.30" y1="587.00" x2="1225.30" y2="791.50" stroke="#000" stroke-width="3.6" />
<line x1="1213.30" y1="588.80" x2="1225.30" y2="588.80" stroke="#000" stroke-width="3.6" />
<text x="1209.75" y="600.31" font-size="32" text-anchor="end" fill="#000" >60</text>
<line x1="1213.30" y1="690.00" x2="1225.30" y2="690.00" stroke="#000" stroke-width="3.6" />
<text x="1209.75" y="701.51" font-size="32" text-anchor="end" fill="#000" >30</text>
<line x1="1213.30" y1="791.50" x2="1225.30" y2="791.50" stroke="#000" stroke-width="3.6" />
<text x="1209.75" y="803.01" font-size="32" text-anchor="end" fill="#000" >0</text>
<line x1="1213.30" y1="791.50" x2="1490.70" y2="791.50" stroke="#000" stroke-width="3.6" />
<line x1="1233.00" y1="588.80" x2="1484.00" y2="588.80" stroke="#000" stroke-width="2.4" stroke-linecap="round" stroke-dasharray="0 9.0"/>
<rect x="1251.00" y="771.00" width="49.00" height="20.50" fill="#a00000" stroke="#1a1a1a" stroke-width="1.3"/>
<rect x="1306.00" y="670.40" width="48.70" height="121.10" fill="#0a7d98" stroke="#1a1a1a" stroke-width="1.3"/>
<rect x="1360.50" y="623.20" width="48.80" height="168.30" fill="#636363" stroke="#1a1a1a" stroke-width="1.3"/>
<rect x="1414.70" y="776.50" width="48.50" height="15.00" fill="#d6d6d6" stroke="#1a1a1a" stroke-width="1.3"/>
<line x1="1330.35" y1="652.00" x2="1330.35" y2="687.00" stroke="#000" stroke-opacity="0.55" stroke-width="1.3"/>
<line x1="1384.90" y1="607.00" x2="1384.90" y2="639.00" stroke="#000" stroke-opacity="0.55" stroke-width="1.3"/>
<circle cx="1272.00" cy="755.20" r="3.3" class="d"/>
<circle cx="1279.20" cy="756.53" r="3.3" class="d"/>
<circle cx="1268.00" cy="762.67" r="3.3" class="d"/>
<circle cx="1282.67" cy="762.67" r="3.3" class="d"/>
<circle cx="1254.13" cy="770.67" r="3.3" class="d"/>
<circle cx="1261.33" cy="769.87" r="3.3" class="d"/>
<circle cx="1297.33" cy="767.20" r="3.3" class="d"/>
<circle cx="1261.33" cy="776.00" r="3.3" class="d"/>
<circle cx="1268.53" cy="773.33" r="3.3" class="d"/>
<circle cx="1276.00" cy="772.80" r="3.3" class="d"/>
<circle cx="1282.67" cy="773.87" r="3.3" class="d"/>
<circle cx="1289.87" cy="775.47" r="3.3" class="d"/>
<circle cx="1297.33" cy="775.20" r="3.3" class="d"/>
<circle cx="1275.47" cy="778.67" r="3.3" class="d"/>
<circle cx="1282.67" cy="780.00" r="3.3" class="d"/>
<circle cx="1268.00" cy="783.20" r="3.3" class="d"/>
<circle cx="1308.53" cy="589.33" r="3.3" class="d"/>
<circle cx="1319.20" cy="589.33" r="3.3" class="d"/>
<circle cx="1329.87" cy="589.33" r="3.3" class="d"/>
<circle cx="1340.80" cy="589.33" r="3.3" class="d"/>
<circle cx="1351.47" cy="589.33" r="3.3" class="d"/>
<circle cx="1319.20" cy="631.20" r="3.3" class="d"/>
<circle cx="1329.87" cy="642.13" r="3.3" class="d"/>
<circle cx="1340.80" cy="636.80" r="3.3" class="d"/>
<circle cx="1324.53" cy="677.33" r="3.3" class="d"/>
<circle cx="1335.20" cy="675.20" r="3.3" class="d"/>
<circle cx="1329.87" cy="705.87" r="3.3" class="d"/>
<circle cx="1329.87" cy="740.53" r="3.3" class="d"/>
<circle cx="1319.20" cy="760.80" r="3.3" class="d"/>
<circle cx="1329.87" cy="765.33" r="3.3" class="d"/>
<circle cx="1340.80" cy="765.33" r="3.3" class="d"/>
<circle cx="1329.87" cy="772.00" r="3.3" class="d"/>
<circle cx="1362.67" cy="589.33" r="3.3" class="d"/>
<circle cx="1366.53" cy="589.33" r="3.3" class="d"/>
<circle cx="1370.40" cy="589.33" r="3.3" class="d"/>
<circle cx="1374.27" cy="589.33" r="3.3" class="d"/>
<circle cx="1378.13" cy="589.33" r="3.3" class="d"/>
<circle cx="1382.00" cy="589.33" r="3.3" class="d"/>
<circle cx="1385.87" cy="589.33" r="3.3" class="d"/>
<circle cx="1389.73" cy="589.33" r="3.3" class="d"/>
<circle cx="1393.60" cy="589.33" r="3.3" class="d"/>
<circle cx="1397.47" cy="589.33" r="3.3" class="d"/>
<circle cx="1401.33" cy="589.33" r="3.3" class="d"/>
<circle cx="1405.20" cy="589.33" r="3.3" class="d"/>
<circle cx="1384.27" cy="648.80" r="3.3" class="d"/>
<circle cx="1384.27" cy="697.87" r="3.3" class="d"/>
<circle cx="1384.27" cy="714.67" r="3.3" class="d"/>
<circle cx="1384.27" cy="768.80" r="3.3" class="d"/>
<circle cx="1428.00" cy="771.47" r="3.3" class="d"/>
<circle cx="1438.67" cy="769.33" r="3.3" class="d"/>
<circle cx="1417.33" cy="781.33" r="3.3" class="d"/>
<circle cx="1428.00" cy="778.67" r="3.3" class="d"/>
<circle cx="1438.67" cy="779.47" r="3.3" class="d"/>
<circle cx="1449.33" cy="778.67" r="3.3" class="d"/>
<circle cx="1460.80" cy="774.13" r="3.3" class="d"/>
<circle cx="1460.80" cy="781.87" r="3.3" class="d"/>
<text x="1251.89" y="747.47" font-size="36" font-weight="bold" letter-spacing="3.0" fill="#000">***</text>
<text x="1415.39" y="760.77" font-size="36" font-weight="bold" letter-spacing="3.0" fill="#000">***</text>
<text x="1245.17" y="833.00" font-size="34.5" text-anchor="start" fill="#000" >Procure pellet</text>
<text x="-0.34" y="906.40" font-size="60" text-anchor="start" fill="#000" font-weight="bold" >e</text>
<text transform="translate(278.40,896.50) scale(1.0125,1.0125)" x="-0.76" y="0" font-size="34" fill="#000" >T-S</text>
<text transform="translate(633.00,896.70) scale(0.9952,0.9952)" x="-1.61" y="0" font-size="34" fill="#000" >O-S</text>
<text transform="translate(971.50,896.70) scale(1.0018,1.0018)" x="-0.76" y="0" font-size="34" fill="#000" >T/O-S</text>
<text transform="translate(1326.00,896.70) scale(1.0116,1.0116)" x="-0.76" y="0" font-size="34" fill="#000" >T-O</text>
<line x1="208.50" y1="911.50" x2="208.50" y2="1616.00" stroke="#6a6a6a" stroke-width="1" stroke-dasharray="1 1"/>
<line x1="349.50" y1="911.50" x2="349.50" y2="1616.00" stroke="#6a6a6a" stroke-width="1" stroke-dasharray="1 1"/>
<line x1="394.50" y1="911.50" x2="394.50" y2="1616.00" stroke="#6a6a6a" stroke-width="1" stroke-dasharray="1 1"/>
<line x1="562.00" y1="913.00" x2="562.00" y2="1616.00" stroke="#6a6a6a" stroke-width="1" stroke-dasharray="1 1"/>
<line x1="702.50" y1="913.00" x2="702.50" y2="1616.00" stroke="#6a6a6a" stroke-width="1" stroke-dasharray="1 1"/>
<line x1="751.50" y1="913.00" x2="751.50" y2="1616.00" stroke="#6a6a6a" stroke-width="1" stroke-dasharray="1 1"/>
<line x1="922.50" y1="911.80" x2="922.50" y2="1543.60" stroke="#6a6a6a" stroke-width="1" stroke-dasharray="1 1"/>
<line x1="1062.00" y1="911.80" x2="1062.00" y2="1543.60" stroke="#6a6a6a" stroke-width="1" stroke-dasharray="1 1"/>
<line x1="1110.30" y1="911.80" x2="1110.30" y2="1543.60" stroke="#6a6a6a" stroke-width="1" stroke-dasharray="1 1"/>
<line x1="1247.50" y1="911.00" x2="1247.50" y2="1277.80" stroke="#6a6a6a" stroke-width="1" stroke-dasharray="1 1"/>
<line x1="1387.50" y1="911.00" x2="1387.50" y2="1277.80" stroke="#6a6a6a" stroke-width="1" stroke-dasharray="1 1"/>
<line x1="1435.80" y1="911.00" x2="1435.80" y2="1277.80" stroke="#6a6a6a" stroke-width="1" stroke-dasharray="1 1"/>
<text x="138.84" y="958.00" font-size="26" text-anchor="middle" fill="#000" >1</text>
<text x="138.84" y="1001.70" font-size="26" text-anchor="middle" fill="#000" >1</text>
<text x="138.84" y="1045.40" font-size="26" text-anchor="middle" fill="#000" >1</text>
<text x="139.20" y="1089.10" font-size="26" text-anchor="middle" fill="#000" >2</text>
<text x="138.84" y="1132.80" font-size="26" text-anchor="middle" fill="#000" >1</text>
<text x="138.84" y="1176.50" font-size="26" text-anchor="middle" fill="#000" >1</text>
<text x="138.84" y="1220.20" font-size="26" text-anchor="middle" fill="#000" >1</text>
<text x="139.28" y="1263.90" font-size="26" text-anchor="middle" fill="#000" >4</text>
<text x="138.84" y="1307.60" font-size="26" text-anchor="middle" fill="#000" >1</text>
<text x="138.84" y="1351.30" font-size="26" text-anchor="middle" fill="#000" >1</text>
<text x="138.84" y="1395.00" font-size="26" text-anchor="middle" fill="#000" >1</text>
<text x="138.84" y="1438.70" font-size="26" text-anchor="middle" fill="#000" >1</text>
<text x="138.84" y="1482.40" font-size="26" text-anchor="middle" fill="#000" >1</text>
<text x="138.84" y="1526.10" font-size="26" text-anchor="middle" fill="#000" >1</text>
<text x="138.84" y="1569.80" font-size="26" text-anchor="middle" fill="#000" >1</text>
<text x="138.84" y="1613.50" font-size="26" text-anchor="middle" fill="#000" >1</text>
<text x="491.20" y="957.50" font-size="26" text-anchor="middle" fill="#000" >8</text>
<text x="491.28" y="1001.20" font-size="26" text-anchor="middle" fill="#000" >4</text>
<text x="491.19" y="1044.90" font-size="26" text-anchor="middle" fill="#000" >7</text>
<text x="490.84" y="1088.60" font-size="26" text-anchor="middle" fill="#000" >1</text>
<text x="491.23" y="1132.30" font-size="26" text-anchor="middle" fill="#000" >5</text>
<text x="491.20" y="1176.00" font-size="26" text-anchor="middle" fill="#000" >2</text>
<text x="490.84" y="1219.70" font-size="26" text-anchor="middle" fill="#000" >1</text>
<text x="491.19" y="1263.40" font-size="26" text-anchor="middle" fill="#000" >7</text>
<text x="491.19" y="1307.10" font-size="26" text-anchor="middle" fill="#000" >7</text>
<text x="490.84" y="1350.80" font-size="26" text-anchor="middle" fill="#000" >1</text>
<text x="491.28" y="1394.50" font-size="26" text-anchor="middle" fill="#000" >3</text>
<text x="491.19" y="1438.20" font-size="26" text-anchor="middle" fill="#000" >7</text>
<text x="491.28" y="1481.90" font-size="26" text-anchor="middle" fill="#000" >4</text>
<text x="490.84" y="1525.60" font-size="26" text-anchor="middle" fill="#000" >1</text>
<text x="491.28" y="1569.30" font-size="26" text-anchor="middle" fill="#000" >3</text>
<text x="491.28" y="1613.00" font-size="26" text-anchor="middle" fill="#000" >4</text>
<text x="860.50" y="957.00" font-size="26" text-anchor="end" fill="#000">1</text>
<text x="860.50" y="1000.55" font-size="26" text-anchor="end" fill="#000">9</text>
<text x="860.50" y="1044.10" font-size="26" text-anchor="end" fill="#000">4</text>
<text x="860.50" y="1087.65" font-size="26" text-anchor="end" fill="#000">13</text>
<text x="860.50" y="1131.20" font-size="26" text-anchor="end" fill="#000">5</text>
<text x="860.50" y="1174.75" font-size="26" text-anchor="end" fill="#000">7</text>
<text x="860.50" y="1218.30" font-size="26" text-anchor="end" fill="#000">7</text>
<text x="860.50" y="1261.85" font-size="26" text-anchor="end" fill="#000">10</text>
<text x="860.50" y="1305.40" font-size="26" text-anchor="end" fill="#000">9</text>
<text x="860.50" y="1348.95" font-size="26" text-anchor="end" fill="#000">16</text>
<text x="860.50" y="1392.50" font-size="26" text-anchor="end" fill="#000">7</text>
<text x="860.50" y="1436.05" font-size="26" text-anchor="end" fill="#000">16</text>
<text x="860.50" y="1479.60" font-size="26" text-anchor="end" fill="#000">2</text>
<text x="860.50" y="1523.15" font-size="26" text-anchor="end" fill="#000">10</text>
<text x="1181.14" y="957.50" font-size="26" text-anchor="middle" fill="#000" >1</text>
<text x="1181.50" y="1001.30" font-size="26" text-anchor="middle" fill="#000" >2</text>
<text x="1181.14" y="1045.10" font-size="26" text-anchor="middle" fill="#000" >1</text>
<text x="1181.14" y="1088.90" font-size="26" text-anchor="middle" fill="#000" >1</text>
<text x="1181.14" y="1132.70" font-size="26" text-anchor="middle" fill="#000" >1</text>
<text x="1181.14" y="1176.50" font-size="26" text-anchor="middle" fill="#000" >1</text>
<text x="1181.14" y="1220.30" font-size="26" text-anchor="middle" fill="#000" >1</text>
<text x="1181.14" y="1264.10" font-size="26" text-anchor="middle" fill="#000" >1</text>
<polyline class="tr" points="188.4,935.5 183.6,931.0 171.6,926.5 172.5,937.6 180.0,942.4 192.0,942.4 207.0,937.6 222.0,932.8 240.0,932.5 300.0,937.0 349.5,943.9 369.0,945.4 390.0,944.8 393.6,948.4 400.5,949.0" stroke="#1fb51f" stroke-width="2.6"/>
<polyline class="tr" points="200.4,949.0 210.0,934.0" stroke="#929296" stroke-width="2.6"/>
<polyline class="tr" points="207.0,937.0 219.0,938.5 240.0,931.0 270.0,932.5 300.0,937.6 330.0,943.0 349.5,946.6 375.0,949.6 387.0,948.4 402.0,949.0" stroke="#929296" stroke-width="2.2"/>
<polyline class="tr" points="180.9,964.0 216.0,966.4 222.0,968.5 237.0,979.0 252.0,988.0 270.0,991.0 300.0,991.9 349.5,989.8 369.0,988.0 387.0,982.0 399.0,975.4" stroke="#1fb51f" stroke-width="1.8"/>
<polyline class="tr" points="207.0,965.5 228.0,962.5 246.0,961.0 264.0,964.0 274.5,973.0 268.5,982.0 266.4,990.4 273.0,992.5 300.0,993.4 307.5,990.4 318.0,994.0 349.5,997.6 372.0,998.5 366.0,994.0 375.0,986.5 387.0,979.0 400.5,972.4" stroke="#929296" stroke-width="1.8"/>
<polyline class="tr" points="370.5,997.0 379.5,994.9" stroke="#929296" stroke-width="1.6"/>
<polyline class="tr" points="177.9,1034.2 207.0,1036.0 240.0,1036.6 300.0,1035.1 349.5,1035.4 369.0,1033.6 393.0,1030.0 400.5,1033.6" stroke="#1fb51f" stroke-width="2.4"/>
<polyline class="tr" points="207.0,1036.0 228.0,1031.5 249.0,1027.0 270.0,1019.5 288.0,1015.6 318.0,1018.0 345.0,1023.4 366.0,1028.5 384.0,1031.5 400.5,1033.6" stroke="#929296" stroke-width="2.2"/>
<polyline class="tr" points="177.9,1064.8 196.5,1057.0 216.0,1056.4 249.0,1061.5 285.0,1070.5 315.0,1081.0 339.0,1085.5 355.5,1085.5" stroke="#f51d1d" stroke-width="2.0"/>
<polyline class="tr" points="204.0,1059.1 231.0,1062.4 270.0,1069.0 300.0,1076.5 324.0,1082.5 349.5,1084.6" stroke="#929296" stroke-width="1.6"/>
<polyline class="tr" points="203.4,1106.5 216.0,1108.0 222.0,1106.5 228.0,1109.5 237.0,1107.1 252.0,1114.0 285.0,1115.5 324.0,1112.5 349.5,1106.5 358.5,1103.5 384.0,1105.6 399.0,1109.5" stroke="#929296" stroke-width="2.2"/>
<circle cx="400.5" cy="1108.6" r="6.2" fill="none" stroke="#119a4a" stroke-width="2.2"/>
<polyline class="tr" points="166.5,1143.4 180.0,1150.0 196.5,1151.5 240.0,1144.9 300.0,1147.0 349.5,1150.6 369.0,1154.5 384.0,1159.0 394.5,1163.5 402.0,1162.9" stroke="#1fb51f" stroke-width="2.6"/>
<polyline class="tr" points="206.4,1154.5 240.0,1154.5 300.0,1157.5 349.5,1160.5 375.0,1162.0 379.5,1162.9 402.0,1162.9" stroke="#929296" stroke-width="2.0"/>
<polyline class="tr" points="179.4,1220.5 169.5,1216.0 175.5,1208.5 183.0,1205.5 210.0,1198.0 240.0,1192.0 324.0,1186.0 349.5,1189.0 375.0,1193.5 408.0,1202.5" stroke="#1fb51f" stroke-width="2.0"/>
<polyline class="tr" points="205.5,1191.4 213.0,1192.0 210.0,1198.0 219.0,1198.6 270.0,1202.5 349.5,1204.0 408.0,1202.5" stroke="#929296" stroke-width="1.8"/>
<polyline class="tr" points="171.9,1257.5 186.8,1256.4 193.3,1259.6" stroke="#f51d1d" stroke-width="1.8"/>
<polyline class="tr" points="186.8,1256.4 200.3,1250.5 209.7,1243.3 221.3,1237.0 233.0,1235.1 245.8,1232.3 275.0,1232.3 349.7,1234.0 353.2,1230.0 359.0,1230.0" stroke="#f51d1d" stroke-width="2.0"/>
<polyline class="tr" points="178.9,1252.6 198.0,1252.6 208.5,1241.7 223.7,1234.7 249.3,1231.9 349.7,1230.0 359.0,1230.0" stroke="#929296" stroke-width="1.8"/>
<polyline class="tr" points="173.5,1281.3 186.3,1287.2 200.3,1288.8 214.3,1289.5 240.0,1285.5 275.0,1281.8 310.0,1281.8 349.7,1284.4 391.7,1286.0 394.5,1287.9" stroke="#1fb51f" stroke-width="2.4"/>
<polyline class="tr" points="200.3,1288.3 221.3,1284.1 263.3,1275.5 298.3,1268.5 321.7,1273.2 331.0,1273.9 333.3,1271.5 356.7,1275.5 375.3,1277.8 384.7,1281.8 395.2,1285.3" stroke="#929296" stroke-width="2.0"/>
<polyline class="tr" points="161.1,1324.5 193.3,1320.5 223.7,1315.9 263.3,1315.9 298.3,1316.8 333.3,1319.8 371.8,1324.0 405.7,1327.5" stroke="#1fb51f" stroke-width="1.6"/>
<polyline class="tr" points="195.7,1321.0 209.7,1318.7 228.3,1310.5 261.0,1304.2 291.3,1302.8 324.0,1304.7 342.7,1308.2 331.0,1313.5 325.2,1319.8 324.0,1332.7 320.5,1337.8 333.3,1338.5 371.8,1336.2 394.5,1330.8 405.7,1327.5" stroke="#929296" stroke-width="1.8"/>
<polyline class="tr" points="202.2,1381.2 209.7,1381.7 237.7,1377.0 268.0,1367.7 286.7,1364.2 333.3,1360.7 384.7,1359.5 423.2,1358.3 394.5,1371.9 395.2,1376.5 401.0,1378.2" stroke="#929296" stroke-width="1.6"/>
<polyline class="tr" points="284.3,1391.5 333.3,1384.0 371.8,1377.0 394.5,1375.8 399.8,1377.5" stroke="#1fb51f" stroke-width="1.6"/>
<circle cx="283.9" cy="1391.5" r="6.2" fill="none" stroke="#119a4a" stroke-width="2.2"/>
<polyline class="tr" points="158.8,1413.9 198.0,1420.9 263.3,1419.0 303.0,1418.5 347.3,1421.8 394.5,1426.0" stroke="#1fb51f" stroke-width="2.4"/>
<polyline class="tr" points="209.7,1423.7 240.0,1427.2 291.3,1430.2 300.7,1428.3 324.0,1429.0 343.8,1432.5 359.0,1431.8 375.3,1427.9 399.8,1426.5" stroke="#929296" stroke-width="2.0"/>
<polyline class="tr" points="169.5,1485.0 200.3,1476.2 228.3,1470.8 263.3,1466.8 333.3,1464.0 370.7,1464.5 389.3,1466.8 401.0,1473.1" stroke="#1fb51f" stroke-width="2.0"/>
<polyline class="tr" points="202.7,1476.2 228.3,1472.7 235.3,1464.5 249.3,1460.3 291.3,1455.2 356.7,1451.7 382.3,1449.8 394.0,1448.6" stroke="#929296" stroke-width="1.8"/>
<polyline class="tr" points="380.0,1449.8 423.2,1462.6 410.3,1463.3 409.2,1469.2 401.0,1473.1" stroke="#929296" stroke-width="1.8"/>
<polyline class="tr" points="175.1,1517.7 186.3,1507.7 212.0,1501.1 263.3,1504.9 310.0,1509.5 347.3,1510.0 380.0,1507.7 399.8,1501.8" stroke="#1fb51f" stroke-width="2.4"/>
<polyline class="tr" points="203.4,1501.1 222.5,1499.5 275.0,1501.4 317.0,1508.8 347.3,1511.6 370.7,1512.8 401.0,1503.0" stroke="#929296" stroke-width="2.0"/>
<polyline class="tr" points="188.2,1559.7 202.7,1552.0 216.7,1547.8 240.0,1551.5 286.7,1550.1 333.3,1546.2 394.5,1543.1 398.7,1543.1" stroke="#1fb51f" stroke-width="2.4"/>
<polyline class="tr" points="198.0,1553.6 212.0,1546.2 233.0,1537.5 251.7,1533.3 286.7,1534.5 333.3,1539.2 394.5,1542.2 398.2,1544.5" stroke="#929296" stroke-width="2.0"/>
<polyline class="tr" points="161.1,1576.0 193.3,1583.5 209.7,1584.7 223.7,1582.3 230.7,1577.7 238.8,1575.3 263.3,1575.8 310.0,1580.0 380.0,1585.8 387.0,1585.1 382.3,1587.0" stroke="#1fb51f" stroke-width="1.6"/>
<polyline class="tr" points="173.0,1587.0 230.7,1587.0 282.0,1595.9 333.3,1599.8 394.5,1602.2 389.3,1601.0" stroke="#929296" stroke-width="1.4"/>
<polyline class="tr" points="329.8,1595.2 370.7,1587.0 405.7,1587.0" stroke="#929296" stroke-width="1.4"/>
<polyline class="tr" points="565.0,919.3 552.7,920.5 538.7,922.8 531.7,925.8 527.0,927.0 534.0,924.2 541.0,923.5 532.8,928.2 520.5,930.5 531.7,928.9 543.3,933.5 566.7,938.7 601.7,944.0 636.7,948.0 699.7,950.3 707.8,949.2" stroke="#f51d1d" stroke-width="1.8"/>
<polyline class="tr" points="533.5,934.5 550.3,931.7 590.0,934.0 604.0,935.9 605.9,937.5 604.0,938.7 611.0,942.2 622.7,946.8 655.3,949.2 709.0,949.2" stroke="#929296" stroke-width="1.8"/>
<polyline class="tr" points="545.2,994.7 539.8,991.9 536.8,987.7 539.8,984.2 552.7,978.3 578.3,971.3 601.7,966.7 632.0,965.5 660.0,966.7 695.0,970.9 711.3,974.8" stroke="#f51d1d" stroke-width="1.8"/>
<polyline class="tr" points="556.2,981.8 587.7,979.0 592.3,976.0 613.3,973.0 660.0,971.8 717.2,975.3" stroke="#929296" stroke-width="1.6"/>
<polyline class="tr" points="539.8,1012.2 555.0,1014.5 570.2,1018.0 576.0,1023.8 583.0,1032.0 592.3,1035.0 636.7,1036.7 683.3,1039.0 708.5,1040.9" stroke="#f51d1d" stroke-width="1.8"/>
<polyline class="tr" points="550.3,1013.3 559.7,1015.7 571.3,1019.2 574.8,1023.8 579.5,1032.7 590.0,1034.3 636.7,1036.7 653.0,1034.3 655.3,1032.0 678.7,1027.3 681.0,1024.5 684.5,1023.8 679.8,1030.1 655.3,1035.5 683.3,1039.0 707.8,1040.9" stroke="#929296" stroke-width="1.8"/>
<polyline class="tr" points="674.0,1029.7 697.8,1026.2" stroke="#929296" stroke-width="1.4"/>
<polyline class="tr" points="528.2,1055.8 536.3,1060.0 562.0,1063.5 590.0,1062.8 636.7,1061.9 683.3,1061.2 718.3,1062.8 739.3,1064.7 748.7,1065.1" stroke="#1fb51f" stroke-width="1.6"/>
<polyline class="tr" points="562.0,1063.5 590.0,1063.5 641.3,1064.7 683.3,1061.2 697.3,1061.2 739.3,1065.1 762.7,1065.8" stroke="#929296" stroke-width="1.4"/>
<polyline class="tr" points="665.1,1057.7 716.0,1061.2 720.7,1063.5 746.3,1065.1" stroke="#929296" stroke-width="1.6"/>
<polyline class="tr" points="690.3,1061.2 725.3,1070.5 751.0,1077.5 768.5,1074.0 751.0,1079.1 713.7,1086.8 702.0,1085.2 684.5,1082.9 702.0,1072.8 746.3,1065.1" stroke="#929296" stroke-width="1.4"/>
<polyline class="tr" points="549.9,1131.2 537.5,1126.5 529.3,1118.3 528.2,1112.5 535.2,1106.7 562.0,1103.2 590.0,1102.0 636.7,1102.0 683.3,1102.5 714.8,1102.0" stroke="#f51d1d" stroke-width="2.0"/>
<polyline class="tr" points="562.0,1109.0 573.7,1105.5 590.0,1102.0 625.0,1100.8 683.3,1103.2 714.8,1102.0" stroke="#929296" stroke-width="1.6"/>
<polyline class="tr" points="536.3,1141.7 539.8,1145.2 544.5,1152.2 552.7,1154.5 601.7,1152.9 648.3,1155.2 683.3,1158.5 698.5,1162.7 707.8,1166.2" stroke="#f51d1d" stroke-width="2.0"/>
<polyline class="tr" points="552.7,1155.7 557.3,1158.0 571.3,1157.5 585.3,1158.0 597.0,1160.3 622.7,1165.0 674.0,1167.8 692.7,1165.0 713.7,1163.1" stroke="#929296" stroke-width="1.8"/>
<polyline class="tr" points="545.7,1219.1 538.7,1222.9 527.0,1223.3 519.5,1221.0 527.0,1212.8 562.0,1207.0 613.3,1204.7 671.7,1202.8 706.7,1203.5 751.0,1205.8 761.5,1207.5 766.2,1205.1" stroke="#1fb51f" stroke-width="2.0"/>
<polyline class="tr" points="552.7,1211.2 562.0,1204.7 578.3,1201.2 613.3,1194.2 648.3,1187.2 660.0,1186.5 678.7,1187.2 706.7,1193.0 730.0,1198.1 758.0,1202.3 766.2,1205.1" stroke="#929296" stroke-width="1.6"/>
<polyline class="tr" points="517.2,1233.5 524.7,1238.2 537.5,1241.7 590.0,1241.7 660.0,1243.3 695.0,1242.8 706.7,1244.0" stroke="#f51d1d" stroke-width="2.0"/>
<polyline class="tr" points="550.3,1241.7 566.7,1240.5 599.3,1231.9 627.3,1239.3 648.3,1245.9 671.7,1244.0 706.7,1244.0" stroke="#929296" stroke-width="1.8"/>
<polyline class="tr" points="526.5,1286.0 537.5,1279.0 550.3,1279.0 578.3,1281.3 613.3,1287.2 636.7,1290.7 678.7,1292.5 695.0,1288.3 707.8,1286.0 702.0,1291.1" stroke="#f51d1d" stroke-width="2.0"/>
<polyline class="tr" points="554.5,1283.7 559.7,1275.5 566.7,1272.0 580.7,1268.5 590.0,1274.3 598.2,1279.0 625.0,1288.3 641.3,1293.0 678.7,1296.5 692.7,1294.2 703.2,1288.3" stroke="#929296" stroke-width="1.8"/>
<polyline class="tr" points="530.5,1323.3 555.0,1319.8 613.3,1314.5 683.3,1311.7 730.0,1312.8 762.7,1315.9" stroke="#1fb51f" stroke-width="1.4"/>
<polyline class="tr" points="524.2,1324.5 538.7,1325.7 552.7,1322.9 559.7,1318.7 569.0,1317.5 576.0,1312.8 585.3,1305.8 690.3,1304.2 695.0,1315.2" stroke="#929296" stroke-width="1.4"/>
<polyline class="tr" points="566.7,1319.8 613.3,1324.0 660.0,1322.9 683.3,1318.7 746.3,1316.3" stroke="#929296" stroke-width="1.2"/>
<polyline class="tr" points="562.0,1318.7 613.3,1325.7 683.3,1332.7 730.0,1338.5 768.5,1343.2 762.7,1342.0 753.3,1328.0 734.7,1312.8 772.0,1315.9 748.7,1316.8 695.0,1315.9 580.7,1316.8" stroke="#929296" stroke-width="1.4"/>
<polyline class="tr" points="527.0,1318.2 529.3,1316.8 548.0,1315.9 553.8,1314.5 562.0,1318.2 597.0,1310.5 601.7,1310.0" stroke="#929296" stroke-width="1.4"/>
<polyline class="tr" points="551.5,1387.0 557.3,1382.8 559.7,1385.9 559.7,1381.7 590.0,1377.0 636.7,1374.0 683.3,1372.3 697.3,1368.8 705.5,1365.3" stroke="#f51d1d" stroke-width="2.0"/>
<polyline class="tr" points="562.0,1381.7 594.7,1371.2 625.0,1362.5 660.0,1361.8 683.3,1361.8 703.2,1364.2" stroke="#929296" stroke-width="1.8"/>
<polyline class="tr" points="538.2,1415.0 552.7,1413.9 564.3,1416.7 571.3,1422.5 585.3,1427.2 599.3,1424.8 608.7,1422.5 636.7,1427.2 660.0,1430.2 706.7,1429.5" stroke="#f51d1d" stroke-width="1.8"/>
<polyline class="tr" points="539.8,1410.1 555.0,1413.2 565.5,1419.0 571.3,1423.7 579.5,1431.1 599.3,1436.5 625.0,1438.8 660.0,1435.3 683.3,1431.1 706.7,1428.8" stroke="#929296" stroke-width="1.8"/>
<polyline class="tr" points="535.2,1450.5 536.3,1455.2 543.3,1461.0 559.7,1467.5 571.3,1469.2 601.7,1476.9 636.7,1482.0 683.3,1484.3 702.0,1484.8 710.2,1486.2" stroke="#f51d1d" stroke-width="2.0"/>
<polyline class="tr" points="556.2,1463.3 571.3,1462.2 594.7,1462.2 625.0,1469.2 648.3,1475.0 683.3,1483.2 697.3,1487.8 710.2,1486.7" stroke="#929296" stroke-width="1.8"/>
<polyline class="tr" points="542.2,1506.0 557.3,1505.3 562.0,1507.7 597.0,1508.8 660.0,1508.1 702.0,1509.5 746.3,1510.0 748.7,1517.0 755.7,1517.5" stroke="#1fb51f" stroke-width="2.0"/>
<polyline class="tr" points="545.7,1507.7 562.0,1503.0 573.7,1500.7 608.7,1498.3 636.7,1503.0 683.3,1514.7 730.0,1518.2 746.3,1517.0" stroke="#929296" stroke-width="1.6"/>
<polyline class="tr" points="542.2,1537.5 546.8,1542.7 566.7,1545.0 594.7,1542.7 613.3,1541.5 632.0,1538.5 660.0,1540.3 702.0,1543.1" stroke="#f51d1d" stroke-width="1.8"/>
<polyline class="tr" points="538.2,1555.5 559.7,1547.8 590.0,1542.7 683.3,1542.7 702.0,1545.0" stroke="#929296" stroke-width="1.6"/>
<polyline class="tr" points="530.5,1583.5 538.2,1581.9 562.0,1586.3 613.3,1583.0 653.0,1581.2 674.0,1582.3 705.5,1590.0" stroke="#f51d1d" stroke-width="1.8"/>
<polyline class="tr" points="560.8,1587.0 576.0,1591.2 601.7,1588.9 629.7,1591.2 660.0,1588.9 683.3,1588.2 702.0,1590.0" stroke="#929296" stroke-width="1.6"/>
<polyline class="tr" points="892.2,953.8 894.5,950.3 902.7,944.5 921.3,939.8 935.3,937.5 949.3,932.1 954.0,927.0 975.0,924.7 986.7,922.8 1010.0,921.2 1033.3,922.8 1062.5,928.2 1087.0,932.8 1103.3,932.8 1108.0,931.2 1116.2,934.0" stroke="#1fb51f" stroke-width="2.0"/>
<polyline class="tr" points="921.3,938.2 949.3,930.5 986.7,925.8 1033.3,922.8 1056.7,924.7 1075.3,930.5 1087.0,935.2 1101.0,935.9 1116.2,934.0" stroke="#929296" stroke-width="1.6"/>
<polyline class="tr" points="889.8,995.8 898.0,991.2 921.3,987.2 944.7,983.5 963.3,978.3 991.3,970.9 1033.3,966.0 1056.7,962.5 1068.3,962.5" stroke="#f51d1d" stroke-width="1.6"/>
<polyline class="tr" points="920.2,987.7 942.3,984.2 947.0,977.2 956.3,976.0 965.7,977.9 991.3,965.5 1033.3,963.2 1056.7,962.0 1068.3,962.5" stroke="#929296" stroke-width="1.6"/>
<polyline class="tr" points="884.0,1021.0 893.3,1025.0 921.3,1030.1 951.7,1036.7 1000.7,1040.9 1033.3,1039.0 1061.3,1029.7 1068.3,1026.2" stroke="#f51d1d" stroke-width="1.6"/>
<polyline class="tr" points="915.5,1033.9 935.3,1026.2 968.0,1014.5 991.3,1009.1 1001.8,1009.8 1042.7,1026.2 1056.7,1026.9 1068.3,1027.3" stroke="#929296" stroke-width="1.6"/>
<polyline class="tr" points="905.5,1074.5 921.3,1077.5" stroke="#f51d1d" stroke-width="1.6"/>
<polyline class="tr" points="921.3,1077.5 926.0,1068.2 935.3,1064.7 963.3,1061.2 998.3,1056.5 1033.3,1056.5 1056.7,1061.2 1067.2,1066.5" stroke="#f51d1d" stroke-width="1.6"/>
<polyline class="tr" points="905.0,1083.8 914.3,1083.3 921.3,1081.0 926.0,1068.2 936.5,1062.3 963.3,1056.5 1010.0,1055.3 1045.0,1056.5 1056.7,1060.0 1067.2,1066.5" stroke="#929296" stroke-width="1.6"/>
<polyline class="tr" points="916.7,1112.5 951.7,1108.5 993.7,1106.7 1033.3,1109.0 1061.3,1105.5" stroke="#f51d1d" stroke-width="1.6"/>
<polyline class="tr" points="921.8,1111.3 927.2,1102.0 947.0,1098.5 961.0,1098.0 986.7,1100.1 1033.3,1100.8 1056.7,1104.3 1066.0,1109.5" stroke="#929296" stroke-width="1.6"/>
<polyline class="tr" points="900.3,1138.6 914.3,1143.5 951.7,1144.5 986.7,1147.5 1021.7,1151.5 1054.3,1151.5 1067.2,1148.2" stroke="#f51d1d" stroke-width="1.6"/>
<polyline class="tr" points="919.0,1140.0 940.0,1145.2 986.7,1147.5 1021.7,1151.5 1056.7,1152.2 1067.2,1148.2" stroke="#929296" stroke-width="1.6"/>
<polyline class="tr" points="895.7,1200.0 909.7,1200.5 940.0,1196.5 986.7,1194.9 1033.3,1194.2 1056.7,1190.7 1067.2,1188.3" stroke="#f51d1d" stroke-width="1.6"/>
<polyline class="tr" points="912.0,1198.8 940.0,1193.0 986.7,1189.5 1017.0,1186.0 1047.3,1186.7 1062.5,1189.5 1067.2,1188.3" stroke="#929296" stroke-width="1.6"/>
<polyline class="tr" points="892.9,1244.7 928.3,1244.0 949.3,1241.7" stroke="#f51d1d" stroke-width="1.6"/>
<polyline class="tr" points="949.3,1239.3 958.7,1260.3 961.0,1266.2 966.8,1266.2 961.0,1264.5 975.0,1253.3 986.7,1251.0 1014.7,1248.7 1018.2,1251.0 1021.7,1247.5 1033.3,1244.0 1056.7,1240.5 1068.3,1241.7" stroke="#f51d1d" stroke-width="2.2"/>
<polyline class="tr" points="916.7,1245.2 928.3,1245.2 949.3,1241.7 986.7,1233.5 1021.7,1230.0 1040.3,1230.0 1056.7,1240.5 1068.3,1241.7" stroke="#929296" stroke-width="1.6"/>
<polyline class="tr" points="906.2,1265.5 914.3,1266.9 933.0,1273.2 937.7,1277.8 942.3,1282.5 949.3,1291.1 986.7,1297.7 1033.3,1299.5 1052.0,1303.5 1066.0,1305.1" stroke="#f51d1d" stroke-width="1.8"/>
<polyline class="tr" points="915.5,1266.9 922.5,1275.5 930.7,1277.8 940.0,1279.0 944.7,1283.2 951.7,1296.5 986.7,1301.2 1033.3,1301.9 1066.0,1305.1" stroke="#929296" stroke-width="1.8"/>
<polyline class="tr" points="890.5,1303.0 916.7,1317.5 933.0,1324.5 951.7,1332.7 979.7,1335.5 1033.3,1328.0 1066.0,1320.5" stroke="#f51d1d" stroke-width="1.6"/>
<polyline class="tr" points="916.7,1313.5 935.3,1319.1 930.7,1322.2 949.3,1329.2 986.7,1336.9 1010.0,1336.9 1033.3,1332.0 1066.0,1320.5" stroke="#929296" stroke-width="1.6"/>
<polyline class="tr" points="899.2,1358.3 905.0,1362.5 940.0,1372.3 986.7,1377.5 1033.3,1374.7 1067.2,1371.2" stroke="#f51d1d" stroke-width="1.6"/>
<polyline class="tr" points="909.7,1369.5 921.3,1367.2 935.3,1366.5 940.0,1371.2 963.3,1381.7 996.0,1388.2 1010.0,1385.9 1033.3,1379.3 1067.2,1371.2" stroke="#929296" stroke-width="1.6"/>
<polyline class="tr" points="884.5,1430.2 900.3,1423.7 926.0,1421.3 927.9,1416.7 940.0,1412.0 986.7,1407.3 1033.3,1420.9 1045.0,1423.7 1066.0,1423.2" stroke="#f51d1d" stroke-width="1.6"/>
<polyline class="tr" points="904.5,1416.7 912.0,1420.2 963.3,1419.0 1010.0,1420.9 1047.3,1424.8 1066.0,1423.2" stroke="#929296" stroke-width="1.4"/>
<polyline class="tr" points="910.1,1456.3 912.0,1449.3 910.8,1456.3 921.3,1458.7 951.7,1455.6 998.3,1456.3 1033.3,1461.0 1054.3,1467.5 1066.0,1465.7" stroke="#f51d1d" stroke-width="1.8"/>
<polyline class="tr" points="914.3,1458.7 921.3,1462.2 986.7,1470.3 1033.3,1468.0 1066.0,1464.5" stroke="#929296" stroke-width="1.6"/>
<polyline class="tr" points="907.8,1504.9 912.0,1510.0 923.7,1513.5 935.3,1512.8 940.0,1512.3 947.0,1506.5 982.0,1494.4 986.7,1493.7 1033.3,1503.0 1066.0,1508.8" stroke="#f51d1d" stroke-width="1.8"/>
<polyline class="tr" points="912.5,1503.5 924.8,1520.0 942.3,1518.2 963.3,1513.5 1010.0,1501.4 1033.3,1504.2 1066.0,1508.8" stroke="#929296" stroke-width="1.6"/>
<polyline class="tr" points="1221.2,947.5 1238.7,947.5 1255.0,950.3 1273.7,951.0 1301.7,949.2 1336.7,946.1 1383.3,941.0 1417.2,937.0 1430.0,938.7 1440.5,943.3" stroke="#1fb51f" stroke-width="1.8"/>
<polyline class="tr" points="1230.0,955.0 1248.0,949.2 1266.7,943.3 1278.3,938.0 1313.3,929.3 1348.3,924.7 1374.0,923.5 1397.3,925.8 1416.0,930.5 1430.0,936.8 1440.5,943.3" stroke="#929296" stroke-width="1.6"/>
<polyline class="tr" points="1232.8,977.2 1236.3,984.2 1248.0,987.7 1259.7,986.5 1264.3,987.7 1273.7,979.0 1304.0,966.0 1314.5,964.3 1360.0,974.1 1386.8,980.7" stroke="#f51d1d" stroke-width="2.0"/>
<polyline class="tr" points="1238.2,976.0 1250.3,995.8 1269.0,992.8 1290.0,987.7 1336.7,974.1 1395.0,983.0" stroke="#929296" stroke-width="1.6"/>
<circle cx="1256.9" cy="1006.3" r="6.2" fill="none" stroke="#119a4a" stroke-width="2.2"/>
<polyline class="tr" points="1256.9,1006.3 1266.7,1009.8 1313.3,1014.0 1360.0,1018.0 1406.7,1023.1 1440.5,1033.2 1448.7,1037.8" stroke="#1fb51f" stroke-width="1.8"/>
<polyline class="tr" points="1214.2,1046.7 1243.3,1036.7 1294.7,1018.0 1360.0,1007.5 1399.7,1004.0 1425.3,1006.3 1435.8,1005.9" stroke="#929296" stroke-width="1.6"/>
<polyline class="tr" points="1426.5,1009.8 1430.0,1018.0 1441.7,1029.7 1447.5,1037.8" stroke="#929296" stroke-width="2.2"/>
<polyline class="tr" points="1220.0,1072.8 1214.2,1065.8 1217.7,1055.3 1227.0,1050.7 1276.0,1053.0 1336.7,1059.5 1383.3,1065.1 1413.7,1065.8 1440.5,1063.5" stroke="#1fb51f" stroke-width="1.8"/>
<polyline class="tr" points="1247.5,1055.3 1278.3,1055.8 1322.7,1068.2 1360.0,1086.8 1378.7,1091.0 1406.7,1076.8 1440.5,1063.5" stroke="#929296" stroke-width="1.6"/>
<polyline class="tr" points="1239.1,1131.2 1248.0,1123.5 1266.7,1116.0 1313.3,1107.4 1360.0,1106.2 1406.7,1108.5 1435.8,1112.5" stroke="#1fb51f" stroke-width="1.8"/>
<polyline class="tr" points="1267.4,1110.6 1301.7,1125.3 1308.7,1124.2 1313.3,1119.5 1327.3,1106.7 1341.3,1102.0 1362.3,1098.0 1395.0,1101.3 1435.8,1112.5" stroke="#929296" stroke-width="1.6"/>
<polyline class="tr" points="1205.5,1173.9 1220.0,1167.3 1231.7,1161.5 1266.7,1157.5 1301.7,1148.2 1360.0,1146.8 1406.7,1151.5 1421.8,1153.3 1420.7,1155.7 1437.0,1155.7 1448.2,1160.3" stroke="#1fb51f" stroke-width="1.6"/>
<polyline class="tr" points="1241.7,1163.4 1264.3,1160.3 1292.3,1151.5 1313.3,1145.2 1318.0,1140.5 1332.0,1138.6 1348.3,1138.2 1367.0,1147.5 1406.7,1151.0 1437.0,1154.5 1448.2,1160.3" stroke="#929296" stroke-width="1.6"/>
<polyline class="tr" points="1220.0,1204.2 1211.1,1187.2 1210.2,1193.0 1215.3,1200.0 1231.7,1205.8 1266.7,1210.5 1336.7,1213.5 1406.7,1216.8 1441.7,1218.0" stroke="#1fb51f" stroke-width="1.8"/>
<polyline class="tr" points="1210.7,1215.2 1255.0,1209.3 1290.0,1206.5 1348.3,1209.3 1383.3,1218.2 1418.3,1220.5 1441.7,1218.0" stroke="#929296" stroke-width="1.4"/>
<polyline class="tr" points="1233.5,1258.0 1227.0,1259.9 1217.7,1260.8 1215.3,1257.5 1224.7,1248.2 1238.7,1246.8 1266.7,1249.8 1271.3,1252.9 1290.0,1249.8 1348.3,1247.5 1406.7,1250.5 1430.0,1249.1 1444.5,1247.5" stroke="#1fb51f" stroke-width="1.8"/>
<polyline class="tr" points="1238.2,1243.5 1262.0,1243.3 1278.3,1239.3 1325.0,1232.3 1383.3,1235.8 1416.0,1239.3 1430.0,1244.0 1444.5,1247.5" stroke="#929296" stroke-width="1.6"/>
<polygon points="1247.50,1287.00 1238.80,1311.70 1256.20,1311.70" fill="#000"/>
<line x1="1247.50" y1="1310.70" x2="1247.50" y2="1331.50" stroke="#000" stroke-width="2.2" />
<polygon points="1387.50,1287.00 1378.80,1311.70 1396.20,1311.70" fill="#000"/>
<line x1="1387.50" y1="1310.70" x2="1387.50" y2="1331.50" stroke="#000" stroke-width="2.2" />
<polygon points="1435.80,1287.00 1427.10,1311.70 1444.50,1311.70" fill="#000"/>
<line x1="1435.80" y1="1310.70" x2="1435.80" y2="1363.00" stroke="#000" stroke-width="2.2" />
<text transform="translate(1207.00,1353.60) scale(1.0148,1.0148)" x="-1.26" y="0" font-size="25" fill="#000" >Gate</text>
<text transform="translate(1345.50,1356.00) scale(1.0165,1.0165)" x="-0.56" y="0" font-size="25" fill="#000" >Trigger</text>
<text transform="translate(1388.00,1395.00) scale(1.0248,1.0248)" x="-2.05" y="0" font-size="25" fill="#000" >Pellet</text>
<text transform="translate(1204.00,1428.70) scale(0.9967,0.9967)" x="-1.42" y="0" font-size="30" fill="#747070" >Outbound</text>
<line x1="1172.00" y1="1437.60" x2="1385.00" y2="1437.60" stroke="#747070" stroke-width="2.0" />
<polygon points="1408.5,1437.6 1383,1429.4 1383,1445.8" fill="#747070"/>
<text transform="translate(1204.00,1479.40) scale(1.0025,1.0025)" x="-2.77" y="0" font-size="30" fill="#10a64a" >Inbound</text>
<text transform="translate(1311.00,1486.50) scale(0.9994,0.9994)" x="-1.04" y="0" font-size="23" fill="#10a64a" >Success</text>
<line x1="1196.00" y1="1491.30" x2="1409.00" y2="1491.30" stroke="#10a64a" stroke-width="2.0" />
<polygon points="1173,1491.3 1198.5,1483 1198.5,1499.6" fill="#10a64a"/>
<text transform="translate(1204.00,1534.00) scale(1.0025,1.0025)" x="-2.77" y="0" font-size="30" fill="#ff1a1a" >Inbound</text>
<text transform="translate(1311.00,1542.50) scale(1.0406,1.0406)" x="-1.89" y="0" font-size="23" fill="#ff1a1a" >Fail</text>
<line x1="1196.00" y1="1547.00" x2="1409.00" y2="1547.00" stroke="#ff1a1a" stroke-width="2.0" />
<polygon points="1173,1547 1198.5,1538.7 1198.5,1555.3" fill="#ff1a1a"/>
<circle cx="1183.8" cy="1590.0" r="6.0" fill="none" stroke="#10a64a" stroke-width="2.2"/>
<text transform="translate(1199.40,1603.00) scale(1.0021,1.0021)" x="-2.46" y="0" font-size="30" fill="#10a64a" >Pellet consumption</text>
<text x="-1.03" y="1677.30" font-size="60" text-anchor="start" fill="#000" font-weight="bold" >f</text>
<text transform="translate(63.27,1800.25) rotate(-90) scale(1.0887,1.1069)" x="-121.55" y="0" font-size="32" fill="#000">Success rate (%)</text>
<line x1="136.50" y1="1694.90" x2="136.50" y2="1912.50" stroke="#000" stroke-width="3.2" />
<line x1="124.80" y1="1696.50" x2="136.50" y2="1696.50" stroke="#000" stroke-width="3.2" />
<text x="122.11" y="1706.80" font-size="28.5" text-anchor="end" fill="#000" >100</text>
<line x1="124.80" y1="1804.50" x2="136.50" y2="1804.50" stroke="#000" stroke-width="3.2" />
<text x="122.11" y="1814.80" font-size="28.5" text-anchor="end" fill="#000" >50</text>
<line x1="124.80" y1="1912.50" x2="136.50" y2="1912.50" stroke="#000" stroke-width="3.2" />
<text x="122.11" y="1922.80" font-size="28.5" text-anchor="end" fill="#000" >0</text>
<line x1="124.80" y1="1912.50" x2="388.80" y2="1912.50" stroke="#000" stroke-width="3.2" />
<line x1="184.10" y1="1912.50" x2="184.10" y2="1920.40" stroke="#000" stroke-width="3.2" />
<line x1="236.10" y1="1912.50" x2="236.10" y2="1920.40" stroke="#000" stroke-width="3.2" />
<line x1="288.10" y1="1912.50" x2="288.10" y2="1920.40" stroke="#000" stroke-width="3.2" />
<line x1="340.60" y1="1912.50" x2="340.60" y2="1920.40" stroke="#000" stroke-width="3.2" />
<rect x="160.00" y="1712.80" width="47.20" height="199.70" fill="#a00000" stroke="#1a1a1a" stroke-width="1.3"/>
<rect x="212.50" y="1824.50" width="47.00" height="88.00" fill="#0a7d98" stroke="#1a1a1a" stroke-width="1.3"/>
<rect x="264.80" y="1882.00" width="46.70" height="30.50" fill="#636363" stroke="#1a1a1a" stroke-width="1.3"/>
<rect x="316.80" y="1701.30" width="46.70" height="211.20" fill="#d6d6d6" stroke="#1a1a1a" stroke-width="1.3"/>
<line x1="183.60" y1="1704.80" x2="183.60" y2="1720.80" stroke="#000" stroke-opacity="0.55" stroke-width="1.3"/>
<line x1="236.00" y1="1803.50" x2="236.00" y2="1844.00" stroke="#000" stroke-opacity="0.55" stroke-width="1.3"/>
<line x1="288.15" y1="1868.00" x2="288.15" y2="1896.00" stroke="#000" stroke-opacity="0.55" stroke-width="1.3"/>
<line x1="340.15" y1="1698.70" x2="340.15" y2="1705.90" stroke="#000" stroke-opacity="0.55" stroke-width="1.3"/>
<circle cx="161.30" cy="1696.50" r="3.3" class="d"/>
<circle cx="165.30" cy="1696.50" r="3.3" class="d"/>
<circle cx="169.30" cy="1696.50" r="3.3" class="d"/>
<circle cx="173.30" cy="1696.50" r="3.3" class="d"/>
<circle cx="177.30" cy="1696.50" r="3.3" class="d"/>
<circle cx="181.30" cy="1696.50" r="3.3" class="d"/>
<circle cx="185.30" cy="1696.50" r="3.3" class="d"/>
<circle cx="189.30" cy="1696.50" r="3.3" class="d"/>
<circle cx="193.30" cy="1696.50" r="3.3" class="d"/>
<circle cx="197.30" cy="1696.50" r="3.3" class="d"/>
<circle cx="201.30" cy="1696.50" r="3.3" class="d"/>
<circle cx="205.30" cy="1696.50" r="3.3" class="d"/>
<circle cx="180.30" cy="1733.30" r="3.3" class="d"/>
<circle cx="186.70" cy="1733.30" r="3.3" class="d"/>
<circle cx="183.50" cy="1768.00" r="3.3" class="d"/>
<circle cx="183.50" cy="1804.50" r="3.3" class="d"/>
<circle cx="220.00" cy="1696.50" r="3.3" class="d"/>
<circle cx="230.70" cy="1696.50" r="3.3" class="d"/>
<circle cx="240.80" cy="1696.50" r="3.3" class="d"/>
<circle cx="251.50" cy="1696.50" r="3.3" class="d"/>
<circle cx="230.70" cy="1804.50" r="3.3" class="d"/>
<circle cx="240.80" cy="1804.50" r="3.3" class="d"/>
<circle cx="236.00" cy="1826.70" r="3.3" class="d"/>
<circle cx="225.30" cy="1841.30" r="3.3" class="d"/>
<circle cx="236.00" cy="1841.30" r="3.3" class="d"/>
<circle cx="246.70" cy="1841.30" r="3.3" class="d"/>
<circle cx="236.00" cy="1876.50" r="3.3" class="d"/>
<circle cx="214.70" cy="1912.50" r="3.3" class="d"/>
<circle cx="225.35" cy="1912.50" r="3.3" class="d"/>
<circle cx="236.00" cy="1912.50" r="3.3" class="d"/>
<circle cx="246.65" cy="1912.50" r="3.3" class="d"/>
<circle cx="257.30" cy="1912.50" r="3.3" class="d"/>
<circle cx="288.00" cy="1768.00" r="3.3" class="d"/>
<circle cx="283.50" cy="1804.50" r="3.3" class="d"/>
<circle cx="291.50" cy="1804.50" r="3.3" class="d"/>
<circle cx="288.00" cy="1841.30" r="3.3" class="d"/>
<circle cx="266.70" cy="1912.50" r="3.3" class="d"/>
<circle cx="270.96" cy="1912.50" r="3.3" class="d"/>
<circle cx="275.22" cy="1912.50" r="3.3" class="d"/>
<circle cx="279.48" cy="1912.50" r="3.3" class="d"/>
<circle cx="283.74" cy="1912.50" r="3.3" class="d"/>
<circle cx="288.00" cy="1912.50" r="3.3" class="d"/>
<circle cx="292.26" cy="1912.50" r="3.3" class="d"/>
<circle cx="296.52" cy="1912.50" r="3.3" class="d"/>
<circle cx="300.78" cy="1912.50" r="3.3" class="d"/>
<circle cx="305.04" cy="1912.50" r="3.3" class="d"/>
<circle cx="309.30" cy="1912.50" r="3.3" class="d"/>
<circle cx="318.70" cy="1696.50" r="3.3" class="d"/>
<circle cx="324.79" cy="1696.50" r="3.3" class="d"/>
<circle cx="330.88" cy="1696.50" r="3.3" class="d"/>
<circle cx="336.97" cy="1696.50" r="3.3" class="d"/>
<circle cx="343.06" cy="1696.50" r="3.3" class="d"/>
<circle cx="349.15" cy="1696.50" r="3.3" class="d"/>
<circle cx="355.24" cy="1696.50" r="3.3" class="d"/>
<circle cx="361.33" cy="1696.50" r="3.3" class="d"/>
<circle cx="340.50" cy="1733.30" r="3.3" class="d"/>
<text x="167.89" y="1695.47" font-size="36" font-weight="bold" letter-spacing="3.0" fill="#000">**</text>
<text x="323.89" y="1695.47" font-size="36" font-weight="bold" letter-spacing="3.0" fill="#000">**</text>
<text transform="translate(194.00,1943.00) rotate(-45)" x="0" y="0" font-size="28.5" text-anchor="end" fill="#000">T-S</text>
<text transform="translate(246.00,1943.00) rotate(-45)" x="0" y="0" font-size="28.5" text-anchor="end" fill="#000">O-S</text>
<text transform="translate(293.50,1948.00) rotate(-45)" x="0" y="0" font-size="28.5" text-anchor="end" fill="#000">T/O-S</text>
<text transform="translate(349.50,1943.50) rotate(-45)" x="0" y="0" font-size="28.5" text-anchor="end" fill="#000">T-O</text>
<text x="377.54" y="1678.30" font-size="60" text-anchor="start" fill="#000" font-weight="bold" >g</text>
<text transform="translate(455.25,1801.25) rotate(-90) scale(1.0884,1.1191)" x="-118.92" y="0" font-size="32" fill="#000">Trials to success</text>
<line x1="516.00" y1="1694.40" x2="516.00" y2="1912.50" stroke="#000" stroke-width="3.2" />
<line x1="504.80" y1="1696.00" x2="516.00" y2="1696.00" stroke="#000" stroke-width="3.2" />
<text x="501.11" y="1706.30" font-size="28.5" text-anchor="end" fill="#000" >20</text>
<line x1="504.80" y1="1804.00" x2="516.00" y2="1804.00" stroke="#000" stroke-width="3.2" />
<text x="501.11" y="1814.30" font-size="28.5" text-anchor="end" fill="#000" >10</text>
<line x1="504.80" y1="1912.50" x2="516.00" y2="1912.50" stroke="#000" stroke-width="3.2" />
<text x="501.11" y="1922.80" font-size="28.5" text-anchor="end" fill="#000" >0</text>
<line x1="504.80" y1="1912.50" x2="768.80" y2="1912.50" stroke="#000" stroke-width="3.2" />
<line x1="563.10" y1="1912.50" x2="563.10" y2="1920.40" stroke="#000" stroke-width="3.2" />
<line x1="615.90" y1="1912.50" x2="615.90" y2="1920.40" stroke="#000" stroke-width="3.2" />
<line x1="668.10" y1="1912.50" x2="668.10" y2="1920.40" stroke="#000" stroke-width="3.2" />
<line x1="720.40" y1="1912.50" x2="720.40" y2="1920.40" stroke="#000" stroke-width="3.2" />
<rect x="539.50" y="1899.50" width="47.20" height="13.00" fill="#a00000" stroke="#1a1a1a" stroke-width="1.3"/>
<rect x="592.50" y="1869.30" width="46.70" height="43.20" fill="#0a7d98" stroke="#1a1a1a" stroke-width="1.3"/>
<rect x="644.80" y="1823.50" width="46.70" height="89.00" fill="#636363" stroke="#1a1a1a" stroke-width="1.3"/>
<rect x="696.80" y="1900.00" width="47.20" height="12.50" fill="#d6d6d6" stroke="#1a1a1a" stroke-width="1.3"/>
<line x1="615.85" y1="1862.70" x2="615.85" y2="1874.70" stroke="#000" stroke-opacity="0.55" stroke-width="1.3"/>
<line x1="668.15" y1="1809.90" x2="668.15" y2="1833.30" stroke="#000" stroke-opacity="0.55" stroke-width="1.3"/>
<circle cx="542.70" cy="1902.10" r="3.3" class="d"/>
<circle cx="547.43" cy="1902.10" r="3.3" class="d"/>
<circle cx="552.16" cy="1902.10" r="3.3" class="d"/>
<circle cx="556.89" cy="1902.10" r="3.3" class="d"/>
<circle cx="561.62" cy="1902.10" r="3.3" class="d"/>
<circle cx="566.35" cy="1902.10" r="3.3" class="d"/>
<circle cx="571.08" cy="1902.10" r="3.3" class="d"/>
<circle cx="575.81" cy="1902.10" r="3.3" class="d"/>
<circle cx="580.54" cy="1902.10" r="3.3" class="d"/>
<circle cx="585.27" cy="1902.10" r="3.3" class="d"/>
<circle cx="563.20" cy="1869.90" r="3.3" class="d"/>
<circle cx="563.20" cy="1891.50" r="3.3" class="d"/>
<circle cx="615.50" cy="1826.70" r="3.3" class="d"/>
<circle cx="599.20" cy="1837.30" r="3.3" class="d"/>
<circle cx="609.90" cy="1837.30" r="3.3" class="d"/>
<circle cx="620.80" cy="1837.30" r="3.3" class="d"/>
<circle cx="632.00" cy="1837.30" r="3.3" class="d"/>
<circle cx="615.50" cy="1859.20" r="3.3" class="d"/>
<circle cx="604.80" cy="1869.90" r="3.3" class="d"/>
<circle cx="615.50" cy="1869.90" r="3.3" class="d"/>
<circle cx="626.70" cy="1869.90" r="3.3" class="d"/>
<circle cx="609.90" cy="1880.80" r="3.3" class="d"/>
<circle cx="620.80" cy="1880.80" r="3.3" class="d"/>
<circle cx="615.50" cy="1891.50" r="3.3" class="d"/>
<circle cx="599.20" cy="1902.10" r="3.3" class="d"/>
<circle cx="609.90" cy="1902.10" r="3.3" class="d"/>
<circle cx="620.80" cy="1902.10" r="3.3" class="d"/>
<circle cx="632.00" cy="1902.10" r="3.3" class="d"/>
<circle cx="662.10" cy="1740.00" r="3.3" class="d"/>
<circle cx="673.30" cy="1740.00" r="3.3" class="d"/>
<circle cx="668.00" cy="1772.50" r="3.3" class="d"/>
<circle cx="662.10" cy="1804.50" r="3.3" class="d"/>
<circle cx="673.30" cy="1804.50" r="3.3" class="d"/>
<circle cx="662.10" cy="1816.00" r="3.3" class="d"/>
<circle cx="673.30" cy="1816.00" r="3.3" class="d"/>
<circle cx="656.80" cy="1837.30" r="3.3" class="d"/>
<circle cx="668.00" cy="1837.30" r="3.3" class="d"/>
<circle cx="679.20" cy="1837.30" r="3.3" class="d"/>
<circle cx="668.00" cy="1859.20" r="3.3" class="d"/>
<circle cx="668.00" cy="1869.90" r="3.3" class="d"/>
<circle cx="668.00" cy="1891.50" r="3.3" class="d"/>
<circle cx="668.00" cy="1902.10" r="3.3" class="d"/>
<circle cx="720.50" cy="1891.50" r="3.3" class="d"/>
<circle cx="698.70" cy="1902.10" r="3.3" class="d"/>
<circle cx="704.79" cy="1902.10" r="3.3" class="d"/>
<circle cx="710.88" cy="1902.10" r="3.3" class="d"/>
<circle cx="716.97" cy="1902.10" r="3.3" class="d"/>
<circle cx="723.06" cy="1902.10" r="3.3" class="d"/>
<circle cx="729.15" cy="1902.10" r="3.3" class="d"/>
<circle cx="735.24" cy="1902.10" r="3.3" class="d"/>
<circle cx="741.33" cy="1902.10" r="3.3" class="d"/>
<text x="547.89" y="1867.47" font-size="36" font-weight="bold" letter-spacing="3.0" fill="#000">**</text>
<text x="714.59" y="1890.07" font-size="36" font-weight="bold" letter-spacing="3.0" fill="#000">*</text>
<text transform="translate(573.50,1943.00) rotate(-45)" x="0" y="0" font-size="28.5" text-anchor="end" fill="#000">T-S</text>
<text transform="translate(625.50,1943.00) rotate(-45)" x="0" y="0" font-size="28.5" text-anchor="end" fill="#000">O-S</text>
<text transform="translate(673.50,1948.00) rotate(-45)" x="0" y="0" font-size="28.5" text-anchor="end" fill="#000">T/O-S</text>
<text transform="translate(729.50,1943.50) rotate(-45)" x="0" y="0" font-size="28.5" text-anchor="end" fill="#000">T-O</text>
<text x="760.21" y="1678.70" font-size="60" text-anchor="start" fill="#000" font-weight="bold" >h</text>
<text transform="translate(1019.60,1681.00) scale(0.9894,0.9894)" x="-2.79" y="0" font-size="34" fill="#000" >D-1</text>
<text transform="translate(1324.00,1684.00) scale(1.0341,1.0341)" x="-2.79" y="0" font-size="34" fill="#000" >D-2</text>
<text transform="translate(834.19,1814.40) rotate(-90) scale(0.9001,0.9354)" x="-103.82" y="0" font-size="32" fill="#000">Time to pellets</text>
<text transform="translate(870.06,1814.00) rotate(-90) scale(0.9182,0.9555)" x="-102.84" y="0" font-size="32" fill="#000">during tone (s)</text>
<text transform="translate(1003.40,1985.50) scale(1.0081,1.0081)" x="-2.77" y="0" font-size="30" fill="#000" >ISIs (tone-shock intervals) (s)</text>
<line x1="920.30" y1="1726.00" x2="920.30" y2="1913.40" stroke="#000" stroke-width="3.2" />
<line x1="912.50" y1="1727.60" x2="920.30" y2="1727.60" stroke="#000" stroke-width="3.2" />
<text x="909.68" y="1736.70" font-size="25" text-anchor="end" fill="#000" >60</text>
<line x1="912.50" y1="1820.80" x2="920.30" y2="1820.80" stroke="#000" stroke-width="3.2" />
<text x="909.68" y="1829.90" font-size="25" text-anchor="end" fill="#000" >30</text>
<line x1="912.50" y1="1913.40" x2="920.30" y2="1913.40" stroke="#000" stroke-width="3.2" />
<text x="909.68" y="1922.50" font-size="25" text-anchor="end" fill="#000" >0</text>
<line x1="912.50" y1="1913.40" x2="1170.00" y2="1913.40" stroke="#000" stroke-width="3.2" />
<line x1="920.30" y1="1913.40" x2="920.30" y2="1920.60" stroke="#000" stroke-width="3.2" />
<text x="920.30" y="1947.00" font-size="27" text-anchor="middle" fill="#000" >0</text>
<line x1="1045.00" y1="1913.40" x2="1045.00" y2="1920.60" stroke="#000" stroke-width="3.2" />
<text x="1044.99" y="1947.00" font-size="27" text-anchor="middle" fill="#000" >50</text>
<line x1="1170.00" y1="1913.40" x2="1170.00" y2="1920.60" stroke="#000" stroke-width="3.2" />
<text x="1169.50" y="1947.00" font-size="27" text-anchor="middle" fill="#000" >100</text>
<line x1="1226.50" y1="1727.40" x2="1226.50" y2="1914.90" stroke="#000" stroke-width="3.2" />
<line x1="1218.70" y1="1729.00" x2="1226.50" y2="1729.00" stroke="#000" stroke-width="3.2" />
<line x1="1218.70" y1="1822.20" x2="1226.50" y2="1822.20" stroke="#000" stroke-width="3.2" />
<line x1="1218.70" y1="1914.90" x2="1226.50" y2="1914.90" stroke="#000" stroke-width="3.2" />
<line x1="1218.70" y1="1914.90" x2="1476.80" y2="1914.90" stroke="#000" stroke-width="3.2" />
<line x1="1226.50" y1="1914.90" x2="1226.50" y2="1922.70" stroke="#000" stroke-width="3.2" />
<text x="1226.50" y="1946.70" font-size="27" text-anchor="middle" fill="#000" >0</text>
<line x1="1351.20" y1="1914.90" x2="1351.20" y2="1922.70" stroke="#000" stroke-width="3.2" />
<text x="1351.19" y="1946.70" font-size="27" text-anchor="middle" fill="#000" >50</text>
<line x1="1476.80" y1="1914.90" x2="1476.80" y2="1922.70" stroke="#000" stroke-width="3.2" />
<text x="1476.30" y="1946.70" font-size="27" text-anchor="middle" fill="#000" >100</text>
<circle cx="929.8" cy="1728.2" r="6.2" fill="#000" fill-opacity="0.58"/>
<circle cx="936.4" cy="1728.2" r="6.2" fill="#000" fill-opacity="0.58"/>
<circle cx="957.3" cy="1728.2" r="6.2" fill="#000" fill-opacity="0.58"/>
<circle cx="961.7" cy="1728.2" r="6.2" fill="#000" fill-opacity="0.58"/>
<circle cx="964.5" cy="1728.2" r="6.2" fill="#000" fill-opacity="0.58"/>
<circle cx="967.5" cy="1728.2" r="6.2" fill="#000" fill-opacity="0.58"/>
<circle cx="972.8" cy="1728.2" r="6.2" fill="#000" fill-opacity="0.58"/>
<circle cx="998.1" cy="1728.2" r="6.2" fill="#000" fill-opacity="0.58"/>
<circle cx="1005.6" cy="1728.2" r="6.2" fill="#000" fill-opacity="0.58"/>
<circle cx="1013.0" cy="1728.2" r="6.2" fill="#000" fill-opacity="0.58"/>
<circle cx="1097.9" cy="1728.2" r="6.2" fill="#000" fill-opacity="0.58"/>
<circle cx="1122.9" cy="1728.2" r="6.2" fill="#000" fill-opacity="0.58"/>
<circle cx="1131.1" cy="1728.2" r="6.2" fill="#000" fill-opacity="0.58"/>
<circle cx="941.3" cy="1771.2" r="6.2" fill="#000" fill-opacity="0.58"/>
<circle cx="1018.0" cy="1765.7" r="6.2" fill="#000" fill-opacity="0.58"/>
<polygon points="957.3,1778.1 950.9,1789.7 963.7,1789.7" fill="#a80000" fill-opacity="0.6"/>
<polygon points="969.7,1780.8 963.3,1792.4 976.1,1792.4" fill="#a80000" fill-opacity="0.6"/>
<polygon points="959.2,1793.0 952.8,1804.6 965.6,1804.6" fill="#a80000" fill-opacity="0.6"/>
<polygon points="1015.2,1722.4 1008.8,1734.0 1021.6,1734.0" fill="#a80000" fill-opacity="0.6"/>
<polygon points="940.2,1872.9 933.8,1884.5 946.6,1884.5" fill="#a80000" fill-opacity="0.6"/>
<polygon points="945.8,1869.0 939.4,1880.6 952.2,1880.6" fill="#a80000" fill-opacity="0.6"/>
<polygon points="954.6,1885.0 948.2,1896.6 961.0,1896.6" fill="#a80000" fill-opacity="0.6"/>
<polygon points="962.8,1887.8 956.4,1899.4 969.2,1899.4" fill="#a80000" fill-opacity="0.6"/>
<polygon points="957.3,1892.7 950.9,1904.3 963.7,1904.3" fill="#a80000" fill-opacity="0.6"/>
<polygon points="963.4,1897.2 957.0,1908.8 969.8,1908.8" fill="#a80000" fill-opacity="0.6"/>
<polygon points="1004.2,1846.4 997.8,1858.0 1010.6,1858.0" fill="#a80000" fill-opacity="0.6"/>
<polygon points="1016.1,1849.7 1009.7,1861.3 1022.5,1861.3" fill="#a80000" fill-opacity="0.6"/>
<polygon points="997.9,1869.6 991.5,1881.2 1004.3,1881.2" fill="#a80000" fill-opacity="0.6"/>
<polygon points="955.0,1882.2 948.6,1893.8 961.4,1893.8" fill="#a80000" fill-opacity="0.6"/>
<polygon points="1125.0,1894.2 1118.6,1905.8 1131.4,1905.8" fill="#a80000" fill-opacity="0.6"/>
<line x1="930.90" y1="1737.00" x2="1129.60" y2="1729.00" stroke="#555" stroke-width="1.8" />
<line x1="940.20" y1="1858.10" x2="1125.00" y2="1851.70" stroke="#a00000" stroke-width="2.2" />
<circle cx="1236.5" cy="1729.0" r="6.2" fill="#000" fill-opacity="0.58"/>
<circle cx="1243.1" cy="1729.0" r="6.2" fill="#000" fill-opacity="0.58"/>
<circle cx="1264.0" cy="1729.0" r="6.2" fill="#000" fill-opacity="0.58"/>
<circle cx="1271.2" cy="1729.0" r="6.2" fill="#000" fill-opacity="0.58"/>
<circle cx="1278.9" cy="1729.0" r="6.2" fill="#000" fill-opacity="0.58"/>
<circle cx="1304.8" cy="1729.0" r="6.2" fill="#000" fill-opacity="0.58"/>
<circle cx="1319.2" cy="1729.0" r="6.2" fill="#000" fill-opacity="0.58"/>
<circle cx="1404.0" cy="1729.0" r="6.2" fill="#000" fill-opacity="0.58"/>
<circle cx="1428.0" cy="1729.0" r="6.2" fill="#000" fill-opacity="0.58"/>
<circle cx="1433.3" cy="1729.0" r="6.2" fill="#000" fill-opacity="0.58"/>
<circle cx="1438.1" cy="1729.0" r="6.2" fill="#000" fill-opacity="0.58"/>
<circle cx="1269.5" cy="1783.7" r="6.2" fill="#000" fill-opacity="0.58"/>
<circle cx="1324.5" cy="1828.2" r="6.2" fill="#000" fill-opacity="0.58"/>
<circle cx="1312.0" cy="1844.0" r="6.2" fill="#000" fill-opacity="0.58"/>
<circle cx="1247.3" cy="1893.6" r="6.2" fill="#000" fill-opacity="0.58"/>
<polygon points="1246.9,1891.6 1240.5,1903.2 1253.3,1903.2" fill="#a80000" fill-opacity="0.6"/>
<polygon points="1252.5,1886.7 1246.1,1898.3 1258.9,1898.3" fill="#a80000" fill-opacity="0.6"/>
<polygon points="1261.8,1882.8 1255.4,1894.4 1268.2,1894.4" fill="#a80000" fill-opacity="0.6"/>
<polygon points="1266.2,1877.3 1259.8,1888.9 1272.6,1888.9" fill="#a80000" fill-opacity="0.6"/>
<polygon points="1276.2,1876.2 1269.8,1887.8 1282.6,1887.8" fill="#a80000" fill-opacity="0.6"/>
<polygon points="1261.3,1892.7 1254.9,1904.3 1267.7,1904.3" fill="#a80000" fill-opacity="0.6"/>
<polygon points="1267.3,1893.8 1260.9,1905.4 1273.7,1905.4" fill="#a80000" fill-opacity="0.6"/>
<polygon points="1269.5,1890.5 1263.1,1902.1 1275.9,1902.1" fill="#a80000" fill-opacity="0.6"/>
<polygon points="1262.9,1900.5 1256.5,1912.1 1269.3,1912.1" fill="#a80000" fill-opacity="0.6"/>
<polygon points="1303.7,1897.2 1297.3,1908.8 1310.1,1908.8" fill="#a80000" fill-opacity="0.6"/>
<polygon points="1310.9,1898.3 1304.5,1909.9 1317.3,1909.9" fill="#a80000" fill-opacity="0.6"/>
<polygon points="1321.9,1889.4 1315.5,1901.0 1328.3,1901.0" fill="#a80000" fill-opacity="0.6"/>
<polygon points="1322.5,1893.8 1316.1,1905.4 1328.9,1905.4" fill="#a80000" fill-opacity="0.6"/>
<polygon points="1432.0,1891.5 1425.6,1903.1 1438.4,1903.1" fill="#a80000" fill-opacity="0.6"/>
<line x1="1237.00" y1="1773.40" x2="1437.30" y2="1736.50" stroke="#555" stroke-width="1.8" />
<line x1="1247.50" y1="1893.30" x2="1432.00" y2="1900.00" stroke="#a00000" stroke-width="2.2" />
<text x="1026.80" y="1758.00" font-size="26" fill="#000" textLength="183.4" lengthAdjust="spacingAndGlyphs">(<tspan font-style="italic">r</tspan>=.147, <tspan font-style="italic">p</tspan>=.586)</text>
<text x="1013.00" y="1837.20" font-size="26" fill="#b00000" textLength="183.7" lengthAdjust="spacingAndGlyphs">(<tspan font-style="italic">r</tspan>=.079, <tspan font-style="italic">p</tspan>=.737)</text>
<text transform="translate(1362.50,1773.30) scale(0.9889,0.9889)" x="-0.58" y="0" font-size="26" fill="#000" >T/O-S</text>
<text x="1308.00" y="1803.70" font-size="26" fill="#000" textLength="176.3" lengthAdjust="spacingAndGlyphs">(<tspan font-style="italic">r</tspan>=.099 <tspan font-style="italic">p</tspan>=.737)</text>
<text transform="translate(1377.50,1847.10) scale(0.9774,0.9774)" x="-0.58" y="0" font-size="26" fill="#b00000" >T-S</text>
<text x="1305.20" y="1877.20" font-size="26" fill="#b00000" textLength="184.0" lengthAdjust="spacingAndGlyphs">(<tspan font-style="italic">r</tspan>=-.213 <tspan font-style="italic">p</tspan>=.425)</text>
</svg></body></html>
